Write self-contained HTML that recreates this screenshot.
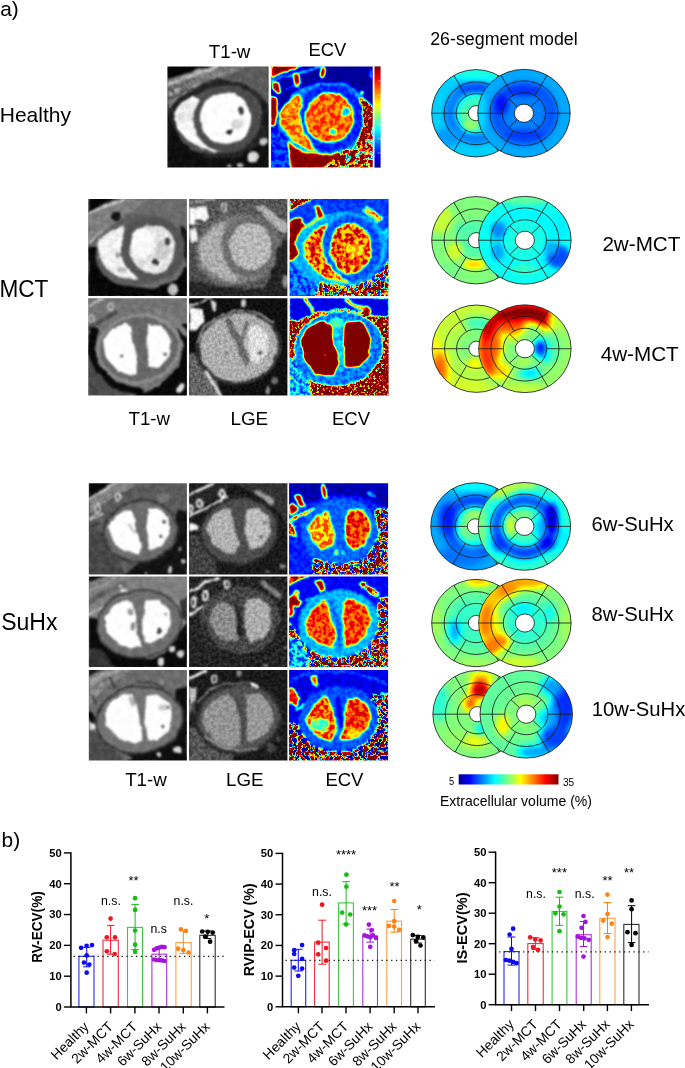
<!DOCTYPE html>
<html><head><meta charset="utf-8"><title>Figure</title>
<style>html,body{margin:0;padding:0;background:#fff}svg{display:block}text{font-family:"Liberation Sans",sans-serif}</style>
</head><body>
<svg width="685" height="1068" viewBox="0 0 685 1068">
<svg x="167.4" y="66.4" width="101.2" height="101.2" viewBox="42 65 578 578" preserveAspectRatio="none"><filter id="fh1" filterUnits="userSpaceOnUse" x="-27.36" y="-4.36" width="716.72" height="716.72" color-interpolation-filters="sRGB"><feTurbulence type="fractalNoise" baseFrequency="0.012" numOctaves="2" seed="103" result="dn"/><feDisplacementMap in="SourceGraphic" in2="dn" scale="22" xChannelSelector="R" yChannelSelector="G" result="ds"/><feTurbulence type="fractalNoise" baseFrequency="0.0420" numOctaves="1" seed="203" result="dn2"/><feDisplacementMap in="ds" in2="dn2" scale="13.2" xChannelSelector="R" yChannelSelector="G" result="ds2"/><feGaussianBlur in="ds2" stdDeviation="6" result="b"/><feColorMatrix in="b" type="matrix" values="1 0 0 0 0 1 0 0 0 0 1 0 0 0 0 0 0 0 0 1" result="A"/><feColorMatrix in="b" type="matrix" values="0 1 0 0 0 0 1 0 0 0 0 1 0 0 0 0 0 0 0 1" result="M"/><feTurbulence type="fractalNoise" baseFrequency="0.03" numOctaves="2" seed="3" result="t"/><feColorMatrix in="t" type="matrix" values="2.4 0 0 0 -0.7 2.4 0 0 0 -0.7 2.4 0 0 0 -0.7 0 0 0 0 1" result="N"/><feColorMatrix in="b" type="matrix" values="0 0 1 0 0 0 0 1 0 0 0 0 1 0 0 0 0 0 0 1" result="S"/><feTurbulence type="fractalNoise" baseFrequency="0.09" numOctaves="1" seed="53" result="t2"/><feColorMatrix in="t2" type="matrix" values="3.0 0 0 0 -1 3.0 0 0 0 -1 3.0 0 0 0 -1 0 0 0 0 1" result="N2"/><feComposite in="S" in2="N2" operator="arithmetic" k1="0.5" k2="0" k3="0" k4="0" result="P2"/><feComposite in="M" in2="N" operator="arithmetic" k1="0.5" k2="0" k3="0" k4="0" result="P"/><feComposite in="A" in2="M" operator="arithmetic" k1="0" k2="0.5" k3="-0.25" k4="0.25" result="H1"/><feComposite in="H1" in2="S" operator="arithmetic" k1="0" k2="1" k3="-0.25" k4="0" result="H1b"/><feComposite in="H1b" in2="P" operator="arithmetic" k1="0" k2="1" k3="1" k4="0" result="H2a"/><feComposite in="H2a" in2="P2" operator="arithmetic" k1="0" k2="1" k3="1" k4="0" result="H2"/><feComponentTransfer in="H2"><feFuncR type="linear" slope="2" intercept="-0.5"/><feFuncG type="linear" slope="2" intercept="-0.5"/><feFuncB type="linear" slope="2" intercept="-0.5"/></feComponentTransfer></filter><g filter="url(#fh1)"><rect x="-73.6" y="-50.6" width="809.2" height="809.2" fill="rgb(36,13,0)"/><polygon points="290,60 625,60 625,300 580,230 480,165 340,135" fill="rgb(92,15,0)"/><polygon points="42,135 290,58 520,58 400,110 300,140 200,185 120,235 42,310" fill="rgb(128,36,0)"/><polyline points="42,170 170,122 320,68" fill="none" stroke="rgb(204,26,0)" stroke-width="13" stroke-linecap="round" stroke-linejoin="round"/><polyline points="42,205 120,172 230,125" fill="none" stroke="rgb(76,26,0)" stroke-width="9" stroke-linecap="round" stroke-linejoin="round"/><polyline points="42,262 150,200 235,168 330,140" fill="none" stroke="rgb(56,20,0)" stroke-width="9" stroke-linecap="round" stroke-linejoin="round"/><polyline points="55,225 110,196" fill="none" stroke="rgb(178,26,0)" stroke-width="16" stroke-linecap="round" stroke-linejoin="round"/><ellipse cx="192" cy="163" rx="13" ry="22" fill="rgb(178,26,0)" transform="rotate(-20 192 163)"/><ellipse cx="192" cy="163" rx="5" ry="12" fill="rgb(76,26,0)" transform="rotate(-20 192 163)"/><ellipse cx="80" cy="215" rx="10" ry="26" fill="rgb(76,26,0)" transform="rotate(-20 80 215)"/><polygon points="42,60 292,60 42,140" fill="rgb(5,5,0)"/><polygon points="42,330 42,650 625,650 625,430 560,520 430,590 250,585 110,480 70,400" fill="rgb(15,10,0)"/><polygon points="575,250 625,320 625,440 590,400" fill="rgb(26,13,0)"/><ellipse cx="338" cy="372" rx="250" ry="190" fill="rgb(82,13,0)" transform="rotate(-18 338 372)"/><polygon points="190,232 120,272 80,335 98,420 160,488 235,532 305,556 350,548 270,485 215,410 195,330 222,262" fill="rgb(250,15,0)"/><ellipse cx="150" cy="330" rx="45" ry="70" fill="rgb(230,26,0)" transform="rotate(20 150 330)"/><ellipse cx="380" cy="365" rx="190" ry="192" fill="rgb(76,10,0)"/><ellipse cx="374" cy="360" rx="147" ry="147" fill="rgb(255,13,0)"/><ellipse cx="462" cy="318" rx="17" ry="24" fill="rgb(56,10,0)"/><ellipse cx="400" cy="437" rx="18" ry="15" fill="rgb(31,10,0)"/><ellipse cx="440" cy="395" rx="40" ry="30" fill="rgb(217,15,0)"/><ellipse cx="592" cy="495" rx="24" ry="22" fill="rgb(199,13,0)"/><ellipse cx="530" cy="582" rx="30" ry="32" fill="rgb(217,13,0)"/><ellipse cx="462" cy="630" rx="17" ry="13" fill="rgb(184,13,0)"/><ellipse cx="395" cy="634" rx="13" ry="10" fill="rgb(158,13,0)"/></g></svg>
<svg x="271.1" y="66.4" width="101.6" height="101.2" viewBox="35 65 580 578" preserveAspectRatio="none"><filter id="fh2" filterUnits="userSpaceOnUse" x="-34.6" y="-4.36" width="719.2" height="716.72" color-interpolation-filters="sRGB"><feTurbulence type="fractalNoise" baseFrequency="0.012" numOctaves="2" seed="107" result="dn"/><feDisplacementMap in="SourceGraphic" in2="dn" scale="22" xChannelSelector="R" yChannelSelector="G" result="ds"/><feTurbulence type="fractalNoise" baseFrequency="0.0420" numOctaves="1" seed="207" result="dn2"/><feDisplacementMap in="ds" in2="dn2" scale="13.2" xChannelSelector="R" yChannelSelector="G" result="ds2"/><feGaussianBlur in="ds2" stdDeviation="6" result="b"/><feColorMatrix in="b" type="matrix" values="1 0 0 0 0 1 0 0 0 0 1 0 0 0 0 0 0 0 0 1" result="A"/><feColorMatrix in="b" type="matrix" values="0 1 0 0 0 0 1 0 0 0 0 1 0 0 0 0 0 0 0 1" result="M"/><feTurbulence type="fractalNoise" baseFrequency="0.035" numOctaves="2" seed="7" result="t"/><feColorMatrix in="t" type="matrix" values="4.0 0 0 0 -1.5 4.0 0 0 0 -1.5 4.0 0 0 0 -1.5 0 0 0 0 1" result="N"/><feColorMatrix in="b" type="matrix" values="0 0 1 0 0 0 0 1 0 0 0 0 1 0 0 0 0 0 0 1" result="S"/><feTurbulence type="fractalNoise" baseFrequency="0.09" numOctaves="1" seed="57" result="t2"/><feColorMatrix in="t2" type="matrix" values="3.0 0 0 0 -1 3.0 0 0 0 -1 3.0 0 0 0 -1 0 0 0 0 1" result="N2"/><feComposite in="S" in2="N2" operator="arithmetic" k1="0.5" k2="0" k3="0" k4="0" result="P2"/><feComposite in="M" in2="N" operator="arithmetic" k1="0.5" k2="0" k3="0" k4="0" result="P"/><feComposite in="A" in2="M" operator="arithmetic" k1="0" k2="0.5" k3="-0.25" k4="0.25" result="H1"/><feComposite in="H1" in2="S" operator="arithmetic" k1="0" k2="1" k3="-0.25" k4="0" result="H1b"/><feComposite in="H1b" in2="P" operator="arithmetic" k1="0" k2="1" k3="1" k4="0" result="H2a"/><feComposite in="H2a" in2="P2" operator="arithmetic" k1="0" k2="1" k3="1" k4="0" result="H2"/><feComponentTransfer in="H2"><feFuncR type="table" tableValues="0 0 0 0 0 0 0 0 0 .5 1 1 1 .5 .5 .5 .5 .5 .5 .5 .5"/><feFuncG type="table" tableValues="0 0 0 0 0 0 0 .5 1 1 1 .5 0 0 0 0 0 0 0 0 0"/><feFuncB type="table" tableValues=".5 .5 .5 .5 .5 .5 1 1 1 .5 0 0 0 0 0 0 0 0 0 0 0"/></feComponentTransfer></filter><g filter="url(#fh2)"><rect x="-81" y="-50.6" width="812" height="809.2" fill="rgb(6,6,0)"/><ellipse cx="335" cy="372" rx="268" ry="215" fill="rgb(55,14,0)" transform="rotate(-18 335 372)"/><polyline points="35,142 180,105 330,68" fill="none" stroke="rgb(67,20,0)" stroke-width="16" stroke-linecap="round" stroke-linejoin="round"/><polygon points="35,60 215,60 35,128" fill="rgb(204,0,0)"/><ellipse cx="182" cy="145" rx="17" ry="40" fill="rgb(204,0,0)" transform="rotate(-14 182 145)"/><ellipse cx="330" cy="100" rx="14" ry="32" fill="rgb(204,0,0)" transform="rotate(12 330 100)"/><polygon points="38,150 78,158 98,215 72,222 50,190" fill="rgb(204,0,0)"/><polyline points="120,195 215,160" fill="none" stroke="rgb(82,20,0)" stroke-width="8" stroke-linecap="round" stroke-linejoin="round"/><polygon points="30,240 62,250 72,330 56,400 30,410" fill="rgb(204,0,0)"/><polygon points="30,415 90,440 150,520 175,650 30,650" fill="rgb(35,24,0)"/><polygon points="125,500 200,545 330,570 430,560 340,650 150,650" fill="rgb(204,10,0)"/><polygon points="340,650 430,560 520,520 565,420 620,380 620,650" fill="rgb(184,204,82)"/><polygon points="535,245 562,300 560,420 520,520 585,480 620,400 620,300 575,262" fill="rgb(245,61,184)"/><ellipse cx="605" cy="105" rx="10" ry="30" fill="rgb(61,20,0)"/><ellipse cx="555" cy="215" rx="8" ry="8" fill="rgb(204,0,0)"/><ellipse cx="372" cy="362" rx="192" ry="192" fill="rgb(31,10,0)"/><polygon points="192,228 120,268 80,335 98,422 160,492 235,536 296,552 258,485 215,410 195,330 215,258" fill="rgb(151,31,0)"/><ellipse cx="368" cy="357" rx="140" ry="142" fill="rgb(159,29,0)"/><ellipse cx="458" cy="325" rx="21" ry="23" fill="rgb(61,10,0)"/><ellipse cx="385" cy="440" rx="19" ry="17" fill="rgb(65,10,0)"/></g></svg>
<svg x="88.2" y="199.1" width="98.7" height="96.9" viewBox="47 52 563 553" preserveAspectRatio="none"><filter id="fm11" filterUnits="userSpaceOnUse" x="-20.56" y="-14.36" width="698.12" height="685.72" color-interpolation-filters="sRGB"><feTurbulence type="fractalNoise" baseFrequency="0.012" numOctaves="2" seed="111" result="dn"/><feDisplacementMap in="SourceGraphic" in2="dn" scale="22" xChannelSelector="R" yChannelSelector="G" result="ds"/><feTurbulence type="fractalNoise" baseFrequency="0.0420" numOctaves="1" seed="211" result="dn2"/><feDisplacementMap in="ds" in2="dn2" scale="13.2" xChannelSelector="R" yChannelSelector="G" result="ds2"/><feGaussianBlur in="ds2" stdDeviation="6" result="b"/><feColorMatrix in="b" type="matrix" values="1 0 0 0 0 1 0 0 0 0 1 0 0 0 0 0 0 0 0 1" result="A"/><feColorMatrix in="b" type="matrix" values="0 1 0 0 0 0 1 0 0 0 0 1 0 0 0 0 0 0 0 1" result="M"/><feTurbulence type="fractalNoise" baseFrequency="0.03" numOctaves="2" seed="11" result="t"/><feColorMatrix in="t" type="matrix" values="2.4 0 0 0 -0.7 2.4 0 0 0 -0.7 2.4 0 0 0 -0.7 0 0 0 0 1" result="N"/><feColorMatrix in="b" type="matrix" values="0 0 1 0 0 0 0 1 0 0 0 0 1 0 0 0 0 0 0 1" result="S"/><feTurbulence type="fractalNoise" baseFrequency="0.09" numOctaves="1" seed="61" result="t2"/><feColorMatrix in="t2" type="matrix" values="3.0 0 0 0 -1 3.0 0 0 0 -1 3.0 0 0 0 -1 0 0 0 0 1" result="N2"/><feComposite in="S" in2="N2" operator="arithmetic" k1="0.5" k2="0" k3="0" k4="0" result="P2"/><feComposite in="M" in2="N" operator="arithmetic" k1="0.5" k2="0" k3="0" k4="0" result="P"/><feComposite in="A" in2="M" operator="arithmetic" k1="0" k2="0.5" k3="-0.25" k4="0.25" result="H1"/><feComposite in="H1" in2="S" operator="arithmetic" k1="0" k2="1" k3="-0.25" k4="0" result="H1b"/><feComposite in="H1b" in2="P" operator="arithmetic" k1="0" k2="1" k3="1" k4="0" result="H2a"/><feComposite in="H2a" in2="P2" operator="arithmetic" k1="0" k2="1" k3="1" k4="0" result="H2"/><feComponentTransfer in="H2"><feFuncR type="linear" slope="2" intercept="-0.5"/><feFuncG type="linear" slope="2" intercept="-0.5"/><feFuncB type="linear" slope="2" intercept="-0.5"/></feComponentTransfer></filter><g filter="url(#fm11)"><rect x="-65.6" y="-58.6" width="788.2" height="774.2" fill="rgb(107,15,0)"/><polygon points="47,140 260,52 400,52 250,150 47,300" fill="rgb(128,20,0)"/><polygon points="47,45 215,45 47,125" fill="rgb(5,5,0)"/><polyline points="47,133 250,53" fill="none" stroke="rgb(230,13,0)" stroke-width="10" stroke-linecap="round" stroke-linejoin="round"/><polyline points="55,300 135,236" fill="none" stroke="rgb(217,13,0)" stroke-width="8" stroke-linecap="round" stroke-linejoin="round"/><ellipse cx="205" cy="150" rx="28" ry="30" fill="rgb(20,13,0)"/><polygon points="47,315 100,330 130,450 250,545 420,565 540,525 600,440 615,430 615,612 47,612" fill="rgb(8,8,0)"/><polygon points="572,195 615,225 615,440 592,380" fill="rgb(20,10,0)"/><ellipse cx="530" cy="570" rx="30" ry="30" fill="rgb(191,13,0)"/><ellipse cx="340" cy="345" rx="255" ry="200" fill="rgb(92,13,0)" transform="rotate(-18 340 345)"/><polygon points="255,195 170,235 100,300 108,380 150,450 230,500 335,512 290,460 245,390 235,310 250,240" fill="rgb(242,20,0)"/><ellipse cx="215" cy="375" rx="14" ry="14" fill="rgb(158,13,0)"/><ellipse cx="240" cy="455" rx="22" ry="15" fill="rgb(184,13,0)"/><ellipse cx="415" cy="335" rx="182" ry="186" fill="rgb(84,10,0)"/><ellipse cx="415" cy="335" rx="130" ry="140" fill="rgb(230,26,0)"/><ellipse cx="355" cy="300" rx="60" ry="85" fill="rgb(250,10,0)"/><ellipse cx="470" cy="340" rx="40" ry="60" fill="rgb(204,20,0)"/><ellipse cx="497" cy="295" rx="18" ry="22" fill="rgb(64,10,0)"/><ellipse cx="432" cy="408" rx="20" ry="16" fill="rgb(51,10,0)"/></g></svg>
<svg x="189.1" y="199.1" width="98.3" height="96.9" viewBox="52 52 561 553" preserveAspectRatio="none"><filter id="fm12" filterUnits="userSpaceOnUse" x="-15.32" y="-14.36" width="695.64" height="685.72" color-interpolation-filters="sRGB"><feTurbulence type="fractalNoise" baseFrequency="0.012" numOctaves="2" seed="112" result="dn"/><feDisplacementMap in="SourceGraphic" in2="dn" scale="22" xChannelSelector="R" yChannelSelector="G" result="ds"/><feTurbulence type="fractalNoise" baseFrequency="0.0420" numOctaves="1" seed="212" result="dn2"/><feDisplacementMap in="ds" in2="dn2" scale="13.2" xChannelSelector="R" yChannelSelector="G" result="ds2"/><feGaussianBlur in="ds2" stdDeviation="6" result="b"/><feColorMatrix in="b" type="matrix" values="1 0 0 0 0 1 0 0 0 0 1 0 0 0 0 0 0 0 0 1" result="A"/><feColorMatrix in="b" type="matrix" values="0 1 0 0 0 0 1 0 0 0 0 1 0 0 0 0 0 0 0 1" result="M"/><feTurbulence type="fractalNoise" baseFrequency="0.05" numOctaves="2" seed="12" result="t"/><feColorMatrix in="t" type="matrix" values="2.4 0 0 0 -0.7 2.4 0 0 0 -0.7 2.4 0 0 0 -0.7 0 0 0 0 1" result="N"/><feColorMatrix in="b" type="matrix" values="0 0 1 0 0 0 0 1 0 0 0 0 1 0 0 0 0 0 0 1" result="S"/><feTurbulence type="fractalNoise" baseFrequency="0.09" numOctaves="1" seed="62" result="t2"/><feColorMatrix in="t2" type="matrix" values="3.0 0 0 0 -1 3.0 0 0 0 -1 3.0 0 0 0 -1 0 0 0 0 1" result="N2"/><feComposite in="S" in2="N2" operator="arithmetic" k1="0.5" k2="0" k3="0" k4="0" result="P2"/><feComposite in="M" in2="N" operator="arithmetic" k1="0.5" k2="0" k3="0" k4="0" result="P"/><feComposite in="A" in2="M" operator="arithmetic" k1="0" k2="0.5" k3="-0.25" k4="0.25" result="H1"/><feComposite in="H1" in2="S" operator="arithmetic" k1="0" k2="1" k3="-0.25" k4="0" result="H1b"/><feComposite in="H1b" in2="P" operator="arithmetic" k1="0" k2="1" k3="1" k4="0" result="H2a"/><feComposite in="H2a" in2="P2" operator="arithmetic" k1="0" k2="1" k3="1" k4="0" result="H2"/><feComponentTransfer in="H2"><feFuncR type="linear" slope="2" intercept="-0.5"/><feFuncG type="linear" slope="2" intercept="-0.5"/><feFuncB type="linear" slope="2" intercept="-0.5"/></feComponentTransfer></filter><g filter="url(#fm12)"><rect x="-60.2" y="-58.6" width="785.4" height="774.2" fill="rgb(87,36,0)"/><polygon points="52,105 150,92 165,160 120,200 52,200" fill="rgb(247,26,0)"/><ellipse cx="110" cy="182" rx="25" ry="14" fill="rgb(64,13,0)"/><ellipse cx="250" cy="100" rx="14" ry="26" fill="none" stroke="rgb(235,13,0)" stroke-width="9"/><polyline points="52,72 200,50" fill="none" stroke="rgb(199,13,0)" stroke-width="8" stroke-linecap="round" stroke-linejoin="round"/><polygon points="52,228 95,222 102,290 62,302" fill="rgb(242,13,0)"/><polygon points="420,92 470,84 618,200 598,255 520,190" fill="rgb(178,31,0)"/><polygon points="555,300 618,280 618,612 440,612 520,500" fill="rgb(33,20,0)"/><polygon points="52,515 200,540 400,565 618,545 618,612 52,612" fill="rgb(38,20,0)"/><polygon points="52,320 100,330 150,450 240,530 52,530" fill="rgb(76,26,0)"/><ellipse cx="335" cy="340" rx="252" ry="205" fill="rgb(102,31,0)" transform="rotate(-15 335 340)"/><ellipse cx="335" cy="340" rx="238" ry="190" fill="rgb(128,31,0)" transform="rotate(-15 335 340)"/><polygon points="255,182 165,230 105,300 112,390 158,458 240,508 345,520 292,458 245,385 235,305 250,232" fill="rgb(173,36,0)"/><ellipse cx="402" cy="325" rx="160" ry="172" fill="rgb(107,26,0)"/><ellipse cx="402" cy="322" rx="122" ry="134" fill="rgb(184,36,0)"/><polygon points="52,560 200,570 400,580 618,560 618,612 52,612" fill="rgb(36,20,0)"/><polygon points="548,330 618,300 618,560 500,570 560,470" fill="rgb(36,20,0)"/><ellipse cx="602" cy="520" rx="18" ry="40" fill="rgb(140,20,0)"/></g></svg>
<svg x="289.6" y="199.1" width="99" height="96.9" viewBox="55 52 565 553" preserveAspectRatio="none"><filter id="fm13" filterUnits="userSpaceOnUse" x="-12.8" y="-14.36" width="700.6" height="685.72" color-interpolation-filters="sRGB"><feTurbulence type="fractalNoise" baseFrequency="0.012" numOctaves="2" seed="113" result="dn"/><feDisplacementMap in="SourceGraphic" in2="dn" scale="22" xChannelSelector="R" yChannelSelector="G" result="ds"/><feTurbulence type="fractalNoise" baseFrequency="0.0420" numOctaves="1" seed="213" result="dn2"/><feDisplacementMap in="ds" in2="dn2" scale="13.2" xChannelSelector="R" yChannelSelector="G" result="ds2"/><feGaussianBlur in="ds2" stdDeviation="6" result="b"/><feColorMatrix in="b" type="matrix" values="1 0 0 0 0 1 0 0 0 0 1 0 0 0 0 0 0 0 0 1" result="A"/><feColorMatrix in="b" type="matrix" values="0 1 0 0 0 0 1 0 0 0 0 1 0 0 0 0 0 0 0 1" result="M"/><feTurbulence type="fractalNoise" baseFrequency="0.04" numOctaves="2" seed="13" result="t"/><feColorMatrix in="t" type="matrix" values="4.0 0 0 0 -1.5 4.0 0 0 0 -1.5 4.0 0 0 0 -1.5 0 0 0 0 1" result="N"/><feColorMatrix in="b" type="matrix" values="0 0 1 0 0 0 0 1 0 0 0 0 1 0 0 0 0 0 0 1" result="S"/><feTurbulence type="fractalNoise" baseFrequency="0.09" numOctaves="1" seed="63" result="t2"/><feColorMatrix in="t2" type="matrix" values="3.0 0 0 0 -1 3.0 0 0 0 -1 3.0 0 0 0 -1 0 0 0 0 1" result="N2"/><feComposite in="S" in2="N2" operator="arithmetic" k1="0.5" k2="0" k3="0" k4="0" result="P2"/><feComposite in="M" in2="N" operator="arithmetic" k1="0.5" k2="0" k3="0" k4="0" result="P"/><feComposite in="A" in2="M" operator="arithmetic" k1="0" k2="0.5" k3="-0.25" k4="0.25" result="H1"/><feComposite in="H1" in2="S" operator="arithmetic" k1="0" k2="1" k3="-0.25" k4="0" result="H1b"/><feComposite in="H1b" in2="P" operator="arithmetic" k1="0" k2="1" k3="1" k4="0" result="H2a"/><feComposite in="H2a" in2="P2" operator="arithmetic" k1="0" k2="1" k3="1" k4="0" result="H2"/><feComponentTransfer in="H2"><feFuncR type="table" tableValues="0 0 0 0 0 0 0 0 0 .5 1 1 1 .5 .5 .5 .5 .5 .5 .5 .5"/><feFuncG type="table" tableValues="0 0 0 0 0 0 0 .5 1 1 1 .5 0 0 0 0 0 0 0 0 0"/><feFuncB type="table" tableValues=".5 .5 .5 .5 .5 .5 1 1 1 .5 0 0 0 0 0 0 0 0 0 0 0"/></feComponentTransfer></filter><g filter="url(#fm13)"><rect x="-58" y="-58.6" width="791" height="774.2" fill="rgb(37,10,0)"/><ellipse cx="340" cy="345" rx="275" ry="220" fill="rgb(61,10,0)" transform="rotate(-15 340 345)"/><polygon points="55,45 195,45 55,118" fill="rgb(224,82,184)"/><polygon points="188,95 222,88 252,150 224,162" fill="rgb(204,0,0)"/><polygon points="55,170 110,158 142,200 112,240 82,300 102,360 72,402 50,402" fill="rgb(224,41,0)"/><polyline points="130,215 232,165" fill="none" stroke="rgb(173,20,0)" stroke-width="10" stroke-linecap="round" stroke-linejoin="round"/><polygon points="470,110 500,94 588,160 560,186" fill="rgb(153,61,0)"/><ellipse cx="602" cy="250" rx="14" ry="30" fill="rgb(73,20,0)"/><polygon points="225,535 320,548 420,552 520,520 570,470 625,395 625,612 195,612" fill="rgb(143,245,61)"/><polygon points="55,420 200,540 200,612 50,612" fill="rgb(45,31,0)"/><ellipse cx="405" cy="335" rx="172" ry="188" fill="rgb(41,12,0)"/><polygon points="275,188 195,230 140,300 140,375 185,448 270,510 392,532 302,455 250,370 240,290 257,228" fill="rgb(163,57,0)"/><ellipse cx="405" cy="335" rx="118" ry="142" fill="rgb(163,57,0)"/><ellipse cx="435" cy="340" rx="50" ry="38" fill="rgb(135,31,0)"/></g></svg>
<svg x="88.2" y="298.2" width="98.7" height="97.4" viewBox="47 47 563 556" preserveAspectRatio="none"><filter id="fm21" filterUnits="userSpaceOnUse" x="-20.56" y="-19.72" width="698.12" height="689.44" color-interpolation-filters="sRGB"><feTurbulence type="fractalNoise" baseFrequency="0.012" numOctaves="2" seed="121" result="dn"/><feDisplacementMap in="SourceGraphic" in2="dn" scale="22" xChannelSelector="R" yChannelSelector="G" result="ds"/><feTurbulence type="fractalNoise" baseFrequency="0.0420" numOctaves="1" seed="221" result="dn2"/><feDisplacementMap in="ds" in2="dn2" scale="13.2" xChannelSelector="R" yChannelSelector="G" result="ds2"/><feGaussianBlur in="ds2" stdDeviation="6" result="b"/><feColorMatrix in="b" type="matrix" values="1 0 0 0 0 1 0 0 0 0 1 0 0 0 0 0 0 0 0 1" result="A"/><feColorMatrix in="b" type="matrix" values="0 1 0 0 0 0 1 0 0 0 0 1 0 0 0 0 0 0 0 1" result="M"/><feTurbulence type="fractalNoise" baseFrequency="0.03" numOctaves="2" seed="21" result="t"/><feColorMatrix in="t" type="matrix" values="2.4 0 0 0 -0.7 2.4 0 0 0 -0.7 2.4 0 0 0 -0.7 0 0 0 0 1" result="N"/><feColorMatrix in="b" type="matrix" values="0 0 1 0 0 0 0 1 0 0 0 0 1 0 0 0 0 0 0 1" result="S"/><feTurbulence type="fractalNoise" baseFrequency="0.09" numOctaves="1" seed="71" result="t2"/><feColorMatrix in="t2" type="matrix" values="3.0 0 0 0 -1 3.0 0 0 0 -1 3.0 0 0 0 -1 0 0 0 0 1" result="N2"/><feComposite in="S" in2="N2" operator="arithmetic" k1="0.5" k2="0" k3="0" k4="0" result="P2"/><feComposite in="M" in2="N" operator="arithmetic" k1="0.5" k2="0" k3="0" k4="0" result="P"/><feComposite in="A" in2="M" operator="arithmetic" k1="0" k2="0.5" k3="-0.25" k4="0.25" result="H1"/><feComposite in="H1" in2="S" operator="arithmetic" k1="0" k2="1" k3="-0.25" k4="0" result="H1b"/><feComposite in="H1b" in2="P" operator="arithmetic" k1="0" k2="1" k3="1" k4="0" result="H2a"/><feComposite in="H2a" in2="P2" operator="arithmetic" k1="0" k2="1" k3="1" k4="0" result="H2"/><feComponentTransfer in="H2"><feFuncR type="linear" slope="2" intercept="-0.5"/><feFuncG type="linear" slope="2" intercept="-0.5"/><feFuncB type="linear" slope="2" intercept="-0.5"/></feComponentTransfer></filter><g filter="url(#fm21)"><rect x="-65.6" y="-64.2" width="788.2" height="778.4" fill="rgb(117,15,0)"/><polyline points="47,93 125,47" fill="none" stroke="rgb(235,10,0)" stroke-width="8" stroke-linecap="round" stroke-linejoin="round"/><ellipse cx="65" cy="165" rx="13" ry="22" fill="none" stroke="rgb(204,10,0)" stroke-width="9"/><ellipse cx="175" cy="97" rx="13" ry="20" fill="none" stroke="rgb(204,10,0)" stroke-width="9" transform="rotate(-20 175 97)"/><polyline points="47,225 210,125" fill="none" stroke="rgb(76,13,0)" stroke-width="22" stroke-linecap="round" stroke-linejoin="round"/><polygon points="47,250 47,612 300,612 200,520 110,400" fill="rgb(76,15,0)"/><polyline points="80,240 62,340 105,450 200,545 340,580" fill="none" stroke="rgb(8,8,0)" stroke-width="44" stroke-linecap="round" stroke-linejoin="round"/><polygon points="548,200 618,190 618,612 300,612 450,545 565,440 590,320" fill="rgb(8,8,0)"/><polyline points="440,120 540,170 600,250" fill="none" stroke="rgb(128,13,0)" stroke-width="30" stroke-linecap="round" stroke-linejoin="round"/><ellipse cx="575" cy="560" rx="16" ry="30" fill="rgb(230,10,0)" transform="rotate(30 575 560)"/><ellipse cx="335" cy="335" rx="245" ry="198" fill="rgb(143,13,0)" transform="rotate(-10 335 335)"/><ellipse cx="335" cy="335" rx="225" ry="180" fill="rgb(102,13,0)" transform="rotate(-10 335 335)"/><polygon points="250,192 176,225 132,290 142,375 196,448 260,480 322,486 326,380 306,300 293,210" fill="rgb(255,8,0)"/><polygon points="382,198 472,204 518,280 506,375 452,438 392,444 380,330" fill="rgb(255,8,0)"/><ellipse cx="243" cy="378" rx="8" ry="8" fill="rgb(76,8,0)"/><ellipse cx="482" cy="365" rx="10" ry="8" fill="rgb(115,8,0)"/></g></svg>
<svg x="189.1" y="298.2" width="98.3" height="97.4" viewBox="52 47 561 556" preserveAspectRatio="none"><filter id="fm22" filterUnits="userSpaceOnUse" x="-15.32" y="-19.72" width="695.64" height="689.44" color-interpolation-filters="sRGB"><feTurbulence type="fractalNoise" baseFrequency="0.012" numOctaves="2" seed="122" result="dn"/><feDisplacementMap in="SourceGraphic" in2="dn" scale="22" xChannelSelector="R" yChannelSelector="G" result="ds"/><feTurbulence type="fractalNoise" baseFrequency="0.0420" numOctaves="1" seed="222" result="dn2"/><feDisplacementMap in="ds" in2="dn2" scale="13.2" xChannelSelector="R" yChannelSelector="G" result="ds2"/><feGaussianBlur in="ds2" stdDeviation="5.5" result="b"/><feColorMatrix in="b" type="matrix" values="1 0 0 0 0 1 0 0 0 0 1 0 0 0 0 0 0 0 0 1" result="A"/><feColorMatrix in="b" type="matrix" values="0 1 0 0 0 0 1 0 0 0 0 1 0 0 0 0 0 0 0 1" result="M"/><feTurbulence type="fractalNoise" baseFrequency="0.06" numOctaves="2" seed="22" result="t"/><feColorMatrix in="t" type="matrix" values="2.4 0 0 0 -0.7 2.4 0 0 0 -0.7 2.4 0 0 0 -0.7 0 0 0 0 1" result="N"/><feColorMatrix in="b" type="matrix" values="0 0 1 0 0 0 0 1 0 0 0 0 1 0 0 0 0 0 0 1" result="S"/><feTurbulence type="fractalNoise" baseFrequency="0.09" numOctaves="1" seed="72" result="t2"/><feColorMatrix in="t2" type="matrix" values="3.0 0 0 0 -1 3.0 0 0 0 -1 3.0 0 0 0 -1 0 0 0 0 1" result="N2"/><feComposite in="S" in2="N2" operator="arithmetic" k1="0.5" k2="0" k3="0" k4="0" result="P2"/><feComposite in="M" in2="N" operator="arithmetic" k1="0.5" k2="0" k3="0" k4="0" result="P"/><feComposite in="A" in2="M" operator="arithmetic" k1="0" k2="0.5" k3="-0.25" k4="0.25" result="H1"/><feComposite in="H1" in2="S" operator="arithmetic" k1="0" k2="1" k3="-0.25" k4="0" result="H1b"/><feComposite in="H1b" in2="P" operator="arithmetic" k1="0" k2="1" k3="1" k4="0" result="H2a"/><feComposite in="H2a" in2="P2" operator="arithmetic" k1="0" k2="1" k3="1" k4="0" result="H2"/><feComponentTransfer in="H2"><feFuncR type="linear" slope="2" intercept="-0.5"/><feFuncG type="linear" slope="2" intercept="-0.5"/><feFuncB type="linear" slope="2" intercept="-0.5"/></feComponentTransfer></filter><g filter="url(#fm22)"><rect x="-60.2" y="-64.2" width="785.4" height="778.4" fill="rgb(15,15,0)"/><polygon points="52,100 130,110 140,180 100,232 52,232" fill="rgb(247,26,0)"/><polyline points="52,95 180,47" fill="none" stroke="rgb(235,13,0)" stroke-width="10" stroke-linecap="round" stroke-linejoin="round"/><ellipse cx="190" cy="92" rx="13" ry="28" fill="rgb(224,13,0)" transform="rotate(-15 190 92)"/><ellipse cx="362" cy="72" rx="14" ry="28" fill="rgb(209,13,0)"/><polygon points="52,355 120,380 200,480 240,612 52,612" fill="rgb(102,46,0)"/><ellipse cx="540" cy="520" rx="20" ry="18" fill="rgb(115,13,0)"/><ellipse cx="500" cy="572" rx="12" ry="25" fill="rgb(153,13,0)"/><ellipse cx="335" cy="330" rx="248" ry="212" fill="rgb(51,20,0)" transform="rotate(-10 335 330)"/><ellipse cx="335" cy="330" rx="225" ry="192" fill="rgb(173,38,0)" transform="rotate(-10 335 330)"/><polyline points="100,300 140,210 235,142 340,116 450,132 525,185" fill="none" stroke="rgb(217,13,0)" stroke-width="7" stroke-linecap="round" stroke-linejoin="round"/><polyline points="150,472 235,606" fill="none" stroke="rgb(255,8,0)" stroke-width="14" stroke-linecap="round" stroke-linejoin="round"/><polyline points="275,178 330,280 375,410" fill="none" stroke="rgb(102,31,0)" stroke-width="36" stroke-linecap="round" stroke-linejoin="round"/><polyline points="385,185 352,280" fill="none" stroke="rgb(107,31,0)" stroke-width="22" stroke-linecap="round" stroke-linejoin="round"/><polygon points="395,215 440,195 505,260 500,365 445,425 400,405 385,300" fill="rgb(224,38,0)"/><ellipse cx="460" cy="360" rx="14" ry="12" fill="rgb(76,13,0)"/><ellipse cx="265" cy="360" rx="10" ry="8" fill="rgb(102,13,0)"/><polyline points="95,330 120,420 190,490" fill="none" stroke="rgb(31,13,0)" stroke-width="9" stroke-linecap="round" stroke-linejoin="round"/></g></svg>
<svg x="289.6" y="298.2" width="99" height="97.4" viewBox="55 47 565 556" preserveAspectRatio="none"><filter id="fm23" filterUnits="userSpaceOnUse" x="-12.8" y="-19.72" width="700.6" height="689.44" color-interpolation-filters="sRGB"><feTurbulence type="fractalNoise" baseFrequency="0.012" numOctaves="2" seed="123" result="dn"/><feDisplacementMap in="SourceGraphic" in2="dn" scale="22" xChannelSelector="R" yChannelSelector="G" result="ds"/><feTurbulence type="fractalNoise" baseFrequency="0.0420" numOctaves="1" seed="223" result="dn2"/><feDisplacementMap in="ds" in2="dn2" scale="13.2" xChannelSelector="R" yChannelSelector="G" result="ds2"/><feGaussianBlur in="ds2" stdDeviation="6" result="b"/><feColorMatrix in="b" type="matrix" values="1 0 0 0 0 1 0 0 0 0 1 0 0 0 0 0 0 0 0 1" result="A"/><feColorMatrix in="b" type="matrix" values="0 1 0 0 0 0 1 0 0 0 0 1 0 0 0 0 0 0 0 1" result="M"/><feTurbulence type="fractalNoise" baseFrequency="0.045" numOctaves="2" seed="23" result="t"/><feColorMatrix in="t" type="matrix" values="2.4 0 0 0 -0.7 2.4 0 0 0 -0.7 2.4 0 0 0 -0.7 0 0 0 0 1" result="N"/><feColorMatrix in="b" type="matrix" values="0 0 1 0 0 0 0 1 0 0 0 0 1 0 0 0 0 0 0 1" result="S"/><feTurbulence type="fractalNoise" baseFrequency="0.09" numOctaves="1" seed="73" result="t2"/><feColorMatrix in="t2" type="matrix" values="3.0 0 0 0 -1 3.0 0 0 0 -1 3.0 0 0 0 -1 0 0 0 0 1" result="N2"/><feComposite in="S" in2="N2" operator="arithmetic" k1="0.5" k2="0" k3="0" k4="0" result="P2"/><feComposite in="M" in2="N" operator="arithmetic" k1="0.5" k2="0" k3="0" k4="0" result="P"/><feComposite in="A" in2="M" operator="arithmetic" k1="0" k2="0.5" k3="-0.25" k4="0.25" result="H1"/><feComposite in="H1" in2="S" operator="arithmetic" k1="0" k2="1" k3="-0.25" k4="0" result="H1b"/><feComposite in="H1b" in2="P" operator="arithmetic" k1="0" k2="1" k3="1" k4="0" result="H2a"/><feComposite in="H2a" in2="P2" operator="arithmetic" k1="0" k2="1" k3="1" k4="0" result="H2"/><feComponentTransfer in="H2"><feFuncR type="table" tableValues="0 0 0 0 0 0 0 0 0 .5 1 1 1 .5 .5 .5 .5 .5 .5 .5 .5"/><feFuncG type="table" tableValues="0 0 0 0 0 0 0 .5 1 1 1 .5 0 0 0 0 0 0 0 0 0"/><feFuncB type="table" tableValues=".5 .5 .5 .5 .5 .5 1 1 1 .5 0 0 0 0 0 0 0 0 0 0 0"/></feComponentTransfer></filter><g filter="url(#fm23)"><rect x="-58" y="-64.2" width="791" height="778.4" fill="rgb(235,82,224)"/><polygon points="50,40 625,40 625,160 560,150 480,130 350,110 200,130 110,182 50,172" fill="rgb(20,12,0)"/><polyline points="150,52 186,120" fill="none" stroke="rgb(204,0,0)" stroke-width="14" stroke-linecap="round" stroke-linejoin="round"/><polyline points="380,58 430,95 500,110" fill="none" stroke="rgb(194,61,0)" stroke-width="16" stroke-linecap="round" stroke-linejoin="round"/><ellipse cx="495" cy="115" rx="25" ry="20" fill="rgb(194,41,0)"/><polygon points="50,390 110,400 170,470 185,612 50,612" fill="rgb(61,61,0)"/><ellipse cx="335" cy="335" rx="258" ry="215" fill="rgb(51,24,0)" transform="rotate(-10 335 335)"/><polyline points="110,200 200,142 252,130" fill="none" stroke="rgb(194,20,0)" stroke-width="10" stroke-linecap="round" stroke-linejoin="round"/><polyline points="300,180 340,300 350,440" fill="none" stroke="rgb(67,20,0)" stroke-width="34" stroke-linecap="round" stroke-linejoin="round"/><ellipse cx="322" cy="190" rx="42" ry="30" fill="rgb(92,20,0)"/><polygon points="245,172 170,216 120,290 136,390 200,476 304,496 334,420 308,300 288,205" fill="rgb(255,0,0)"/><polygon points="370,186 464,180 516,270 504,380 446,436 380,432 364,320" fill="rgb(255,0,0)"/><ellipse cx="258" cy="372" rx="10" ry="8" fill="rgb(112,0,0)"/></g></svg>
<svg x="88.8" y="483.2" width="98.1" height="91.3" viewBox="50 47 560 521" preserveAspectRatio="none"><filter id="fs11" filterUnits="userSpaceOnUse" x="-17.2" y="-15.52" width="694.4" height="646.04" color-interpolation-filters="sRGB"><feTurbulence type="fractalNoise" baseFrequency="0.012" numOctaves="2" seed="131" result="dn"/><feDisplacementMap in="SourceGraphic" in2="dn" scale="22" xChannelSelector="R" yChannelSelector="G" result="ds"/><feTurbulence type="fractalNoise" baseFrequency="0.0420" numOctaves="1" seed="231" result="dn2"/><feDisplacementMap in="ds" in2="dn2" scale="13.2" xChannelSelector="R" yChannelSelector="G" result="ds2"/><feGaussianBlur in="ds2" stdDeviation="6" result="b"/><feColorMatrix in="b" type="matrix" values="1 0 0 0 0 1 0 0 0 0 1 0 0 0 0 0 0 0 0 1" result="A"/><feColorMatrix in="b" type="matrix" values="0 1 0 0 0 0 1 0 0 0 0 1 0 0 0 0 0 0 0 1" result="M"/><feTurbulence type="fractalNoise" baseFrequency="0.03" numOctaves="2" seed="31" result="t"/><feColorMatrix in="t" type="matrix" values="2.4 0 0 0 -0.7 2.4 0 0 0 -0.7 2.4 0 0 0 -0.7 0 0 0 0 1" result="N"/><feColorMatrix in="b" type="matrix" values="0 0 1 0 0 0 0 1 0 0 0 0 1 0 0 0 0 0 0 1" result="S"/><feTurbulence type="fractalNoise" baseFrequency="0.09" numOctaves="1" seed="81" result="t2"/><feColorMatrix in="t2" type="matrix" values="3.0 0 0 0 -1 3.0 0 0 0 -1 3.0 0 0 0 -1 0 0 0 0 1" result="N2"/><feComposite in="S" in2="N2" operator="arithmetic" k1="0.5" k2="0" k3="0" k4="0" result="P2"/><feComposite in="M" in2="N" operator="arithmetic" k1="0.5" k2="0" k3="0" k4="0" result="P"/><feComposite in="A" in2="M" operator="arithmetic" k1="0" k2="0.5" k3="-0.25" k4="0.25" result="H1"/><feComposite in="H1" in2="S" operator="arithmetic" k1="0" k2="1" k3="-0.25" k4="0" result="H1b"/><feComposite in="H1b" in2="P" operator="arithmetic" k1="0" k2="1" k3="1" k4="0" result="H2a"/><feComposite in="H2a" in2="P2" operator="arithmetic" k1="0" k2="1" k3="1" k4="0" result="H2"/><feComponentTransfer in="H2"><feFuncR type="linear" slope="2" intercept="-0.5"/><feFuncG type="linear" slope="2" intercept="-0.5"/><feFuncB type="linear" slope="2" intercept="-0.5"/></feComponentTransfer></filter><g filter="url(#fs11)"><rect x="-62" y="-57.2" width="784" height="729.4" fill="rgb(92,18,0)"/><polygon points="50,128 195,42 345,42 250,100 150,165 50,262" fill="rgb(128,26,0)"/><polyline points="50,140 200,50" fill="none" stroke="rgb(199,15,0)" stroke-width="12" stroke-linecap="round" stroke-linejoin="round"/><polyline points="50,225 140,170 290,80" fill="none" stroke="rgb(64,15,0)" stroke-width="8" stroke-linecap="round" stroke-linejoin="round"/><polygon points="50,40 195,40 50,128" fill="rgb(8,8,0)"/><ellipse cx="215" cy="128" rx="12" ry="20" fill="none" stroke="rgb(217,10,0)" stroke-width="9"/><ellipse cx="100" cy="190" rx="14" ry="22" fill="none" stroke="rgb(204,10,0)" stroke-width="9"/><polyline points="55,255 130,216" fill="none" stroke="rgb(217,10,0)" stroke-width="10" stroke-linecap="round" stroke-linejoin="round"/><polyline points="60,300 110,280" fill="none" stroke="rgb(51,10,0)" stroke-width="10" stroke-linecap="round" stroke-linejoin="round"/><ellipse cx="470" cy="130" rx="40" ry="25" fill="rgb(117,13,0)"/><polygon points="565,190 615,215 615,575 250,575 330,505 480,465" fill="rgb(20,10,0)"/><polygon points="50,300 130,330 200,450 260,575 50,575" fill="rgb(71,18,0)"/><ellipse cx="510" cy="540" rx="14" ry="20" fill="rgb(199,10,0)"/><ellipse cx="590" cy="490" rx="14" ry="16" fill="rgb(184,10,0)"/><ellipse cx="570" cy="420" rx="10" ry="10" fill="rgb(128,10,0)"/><ellipse cx="375" cy="560" rx="6" ry="6" fill="rgb(178,10,0)"/><ellipse cx="345" cy="322" rx="216" ry="180" fill="rgb(56,13,0)" transform="rotate(-8 345 322)"/><ellipse cx="345" cy="322" rx="204" ry="168" fill="rgb(107,13,0)" transform="rotate(-8 345 322)"/><polygon points="262,195 198,236 160,300 190,380 248,432 332,456 360,410 326,330 316,250 294,198" fill="rgb(255,13,0)"/><polyline points="282,285 312,324" fill="none" stroke="rgb(184,13,0)" stroke-width="14" stroke-linecap="round" stroke-linejoin="round"/><polygon points="390,192 445,190 505,245 512,335 462,412 398,428 376,320" fill="rgb(255,13,0)"/><ellipse cx="480" cy="268" rx="11" ry="11" fill="rgb(76,10,0)"/><ellipse cx="467" cy="350" rx="9" ry="9" fill="rgb(76,10,0)"/></g></svg>
<svg x="189.1" y="483.2" width="98.3" height="91.3" viewBox="52 47 561 521" preserveAspectRatio="none"><filter id="fs12" filterUnits="userSpaceOnUse" x="-15.32" y="-15.52" width="695.64" height="646.04" color-interpolation-filters="sRGB"><feTurbulence type="fractalNoise" baseFrequency="0.012" numOctaves="2" seed="132" result="dn"/><feDisplacementMap in="SourceGraphic" in2="dn" scale="22" xChannelSelector="R" yChannelSelector="G" result="ds"/><feTurbulence type="fractalNoise" baseFrequency="0.0420" numOctaves="1" seed="232" result="dn2"/><feDisplacementMap in="ds" in2="dn2" scale="13.2" xChannelSelector="R" yChannelSelector="G" result="ds2"/><feGaussianBlur in="ds2" stdDeviation="5.5" result="b"/><feColorMatrix in="b" type="matrix" values="1 0 0 0 0 1 0 0 0 0 1 0 0 0 0 0 0 0 0 1" result="A"/><feColorMatrix in="b" type="matrix" values="0 1 0 0 0 0 1 0 0 0 0 1 0 0 0 0 0 0 0 1" result="M"/><feTurbulence type="fractalNoise" baseFrequency="0.055" numOctaves="2" seed="32" result="t"/><feColorMatrix in="t" type="matrix" values="2.4 0 0 0 -0.7 2.4 0 0 0 -0.7 2.4 0 0 0 -0.7 0 0 0 0 1" result="N"/><feColorMatrix in="b" type="matrix" values="0 0 1 0 0 0 0 1 0 0 0 0 1 0 0 0 0 0 0 1" result="S"/><feTurbulence type="fractalNoise" baseFrequency="0.09" numOctaves="1" seed="82" result="t2"/><feColorMatrix in="t2" type="matrix" values="3.0 0 0 0 -1 3.0 0 0 0 -1 3.0 0 0 0 -1 0 0 0 0 1" result="N2"/><feComposite in="S" in2="N2" operator="arithmetic" k1="0.5" k2="0" k3="0" k4="0" result="P2"/><feComposite in="M" in2="N" operator="arithmetic" k1="0.5" k2="0" k3="0" k4="0" result="P"/><feComposite in="A" in2="M" operator="arithmetic" k1="0" k2="0.5" k3="-0.25" k4="0.25" result="H1"/><feComposite in="H1" in2="S" operator="arithmetic" k1="0" k2="1" k3="-0.25" k4="0" result="H1b"/><feComposite in="H1b" in2="P" operator="arithmetic" k1="0" k2="1" k3="1" k4="0" result="H2a"/><feComposite in="H2a" in2="P2" operator="arithmetic" k1="0" k2="1" k3="1" k4="0" result="H2"/><feComponentTransfer in="H2"><feFuncR type="linear" slope="2" intercept="-0.5"/><feFuncG type="linear" slope="2" intercept="-0.5"/><feFuncB type="linear" slope="2" intercept="-0.5"/></feComponentTransfer></filter><g filter="url(#fs12)"><rect x="-60.2" y="-57.2" width="785.4" height="729.4" fill="rgb(26,20,0)"/><polygon points="300,42 618,42 618,300 560,200 450,120" fill="rgb(51,20,0)"/><polygon points="52,120 200,50 330,50 200,120 52,215" fill="rgb(41,20,0)"/><polyline points="52,112 195,47" fill="none" stroke="rgb(255,8,0)" stroke-width="13" stroke-linecap="round" stroke-linejoin="round"/><polyline points="52,236 265,130" fill="none" stroke="rgb(255,8,0)" stroke-width="11" stroke-linecap="round" stroke-linejoin="round"/><ellipse cx="110" cy="160" rx="13" ry="24" fill="none" stroke="rgb(255,8,0)" stroke-width="11"/><ellipse cx="240" cy="108" rx="11" ry="24" fill="none" stroke="rgb(255,8,0)" stroke-width="11"/><ellipse cx="65" cy="195" rx="9" ry="22" fill="none" stroke="rgb(242,8,0)" stroke-width="10"/><polygon points="52,280 100,285 100,320 52,320" fill="rgb(247,10,0)"/><polygon points="420,95 450,85 545,150 525,182" fill="rgb(158,26,0)"/><polygon points="52,330 120,350 200,470 220,575 52,575" fill="rgb(66,36,0)"/><ellipse cx="340" cy="322" rx="232" ry="196" fill="rgb(36,15,0)" transform="rotate(-8 340 322)"/><ellipse cx="340" cy="322" rx="218" ry="182" fill="rgb(76,20,0)" transform="rotate(-8 340 322)"/><polygon points="255,190 185,230 152,300 182,388 242,436 304,452 344,395 316,330 306,260 290,196" fill="rgb(178,31,0)"/><polygon points="385,190 442,182 508,235 522,322 476,404 402,428 368,330 370,250" fill="rgb(189,31,0)"/><ellipse cx="487" cy="268" rx="9" ry="9" fill="rgb(76,10,0)"/><ellipse cx="464" cy="352" rx="9" ry="9" fill="rgb(76,10,0)"/><ellipse cx="580" cy="520" rx="18" ry="14" fill="rgb(128,13,0)"/><ellipse cx="500" cy="550" rx="14" ry="10" fill="rgb(115,13,0)"/></g></svg>
<svg x="289.1" y="483.2" width="99" height="91.3" viewBox="52 47 565 521" preserveAspectRatio="none"><filter id="fs13" filterUnits="userSpaceOnUse" x="-15.8" y="-15.52" width="700.6" height="646.04" color-interpolation-filters="sRGB"><feTurbulence type="fractalNoise" baseFrequency="0.012" numOctaves="2" seed="133" result="dn"/><feDisplacementMap in="SourceGraphic" in2="dn" scale="22" xChannelSelector="R" yChannelSelector="G" result="ds"/><feTurbulence type="fractalNoise" baseFrequency="0.0420" numOctaves="1" seed="233" result="dn2"/><feDisplacementMap in="ds" in2="dn2" scale="13.2" xChannelSelector="R" yChannelSelector="G" result="ds2"/><feGaussianBlur in="ds2" stdDeviation="6" result="b"/><feColorMatrix in="b" type="matrix" values="1 0 0 0 0 1 0 0 0 0 1 0 0 0 0 0 0 0 0 1" result="A"/><feColorMatrix in="b" type="matrix" values="0 1 0 0 0 0 1 0 0 0 0 1 0 0 0 0 0 0 0 1" result="M"/><feTurbulence type="fractalNoise" baseFrequency="0.04" numOctaves="2" seed="33" result="t"/><feColorMatrix in="t" type="matrix" values="4.5 0 0 0 -1.75 4.5 0 0 0 -1.75 4.5 0 0 0 -1.75 0 0 0 0 1" result="N"/><feColorMatrix in="b" type="matrix" values="0 0 1 0 0 0 0 1 0 0 0 0 1 0 0 0 0 0 0 1" result="S"/><feTurbulence type="fractalNoise" baseFrequency="0.09" numOctaves="1" seed="83" result="t2"/><feColorMatrix in="t2" type="matrix" values="3.0 0 0 0 -1 3.0 0 0 0 -1 3.0 0 0 0 -1 0 0 0 0 1" result="N2"/><feComposite in="S" in2="N2" operator="arithmetic" k1="0.5" k2="0" k3="0" k4="0" result="P2"/><feComposite in="M" in2="N" operator="arithmetic" k1="0.5" k2="0" k3="0" k4="0" result="P"/><feComposite in="A" in2="M" operator="arithmetic" k1="0" k2="0.5" k3="-0.25" k4="0.25" result="H1"/><feComposite in="H1" in2="S" operator="arithmetic" k1="0" k2="1" k3="-0.25" k4="0" result="H1b"/><feComposite in="H1b" in2="P" operator="arithmetic" k1="0" k2="1" k3="1" k4="0" result="H2a"/><feComposite in="H2a" in2="P2" operator="arithmetic" k1="0" k2="1" k3="1" k4="0" result="H2"/><feComponentTransfer in="H2"><feFuncR type="table" tableValues="0 0 0 0 0 0 0 0 0 .5 1 1 1 .5 .5 .5 .5 .5 .5 .5 .5"/><feFuncG type="table" tableValues="0 0 0 0 0 0 0 .5 1 1 1 .5 0 0 0 0 0 0 0 0 0"/><feFuncB type="table" tableValues=".5 .5 .5 .5 .5 .5 1 1 1 .5 0 0 0 0 0 0 0 0 0 0 0"/></feComponentTransfer></filter><g filter="url(#fs13)"><rect x="-61" y="-57.2" width="791" height="729.4" fill="rgb(31,10,0)"/><polygon points="48,40 622,40 622,200 540,150 400,110 250,120 120,180 48,200" fill="rgb(10,10,0)"/><ellipse cx="520" cy="110" rx="32" ry="11" fill="rgb(65,20,0)" transform="rotate(30 520 110)"/><ellipse cx="252" cy="95" rx="13" ry="40" fill="rgb(204,0,0)" transform="rotate(-10 252 95)"/><polygon points="85,120 116,114 140,176 110,190" fill="rgb(204,0,0)"/><polygon points="48,170 75,160 100,200 60,232" fill="rgb(204,0,0)"/><polyline points="52,262 190,192" fill="none" stroke="rgb(194,102,0)" stroke-width="14" stroke-linecap="round" stroke-linejoin="round"/><polygon points="48,270 80,280 90,350 48,342" fill="rgb(194,102,0)"/><polygon points="540,200 622,190 622,575 180,575 200,480 300,500 450,490 520,440 570,330" fill="rgb(147,245,41)"/><ellipse cx="340" cy="322" rx="222" ry="185" fill="rgb(45,10,0)" transform="rotate(-8 340 322)"/><polygon points="255,205 195,240 160,300 185,380 240,430 300,402 312,330 292,260 275,210" fill="rgb(147,41,0)"/><polygon points="390,200 450,195 510,250 520,310 480,400 420,430 375,380 372,280" fill="rgb(171,41,0)"/><ellipse cx="325" cy="440" rx="8" ry="14" fill="rgb(143,20,0)"/><ellipse cx="365" cy="435" rx="8" ry="10" fill="rgb(122,20,0)"/></g></svg>
<svg x="88.8" y="576.4" width="98.1" height="90.6" viewBox="50 65 560 517" preserveAspectRatio="none"><filter id="fs21" filterUnits="userSpaceOnUse" x="-17.2" y="2.96" width="694.4" height="641.08" color-interpolation-filters="sRGB"><feTurbulence type="fractalNoise" baseFrequency="0.012" numOctaves="2" seed="141" result="dn"/><feDisplacementMap in="SourceGraphic" in2="dn" scale="22" xChannelSelector="R" yChannelSelector="G" result="ds"/><feTurbulence type="fractalNoise" baseFrequency="0.0420" numOctaves="1" seed="241" result="dn2"/><feDisplacementMap in="ds" in2="dn2" scale="13.2" xChannelSelector="R" yChannelSelector="G" result="ds2"/><feGaussianBlur in="ds2" stdDeviation="6" result="b"/><feColorMatrix in="b" type="matrix" values="1 0 0 0 0 1 0 0 0 0 1 0 0 0 0 0 0 0 0 1" result="A"/><feColorMatrix in="b" type="matrix" values="0 1 0 0 0 0 1 0 0 0 0 1 0 0 0 0 0 0 0 1" result="M"/><feTurbulence type="fractalNoise" baseFrequency="0.03" numOctaves="2" seed="41" result="t"/><feColorMatrix in="t" type="matrix" values="2.4 0 0 0 -0.7 2.4 0 0 0 -0.7 2.4 0 0 0 -0.7 0 0 0 0 1" result="N"/><feColorMatrix in="b" type="matrix" values="0 0 1 0 0 0 0 1 0 0 0 0 1 0 0 0 0 0 0 1" result="S"/><feTurbulence type="fractalNoise" baseFrequency="0.09" numOctaves="1" seed="91" result="t2"/><feColorMatrix in="t2" type="matrix" values="3.0 0 0 0 -1 3.0 0 0 0 -1 3.0 0 0 0 -1 0 0 0 0 1" result="N2"/><feComposite in="S" in2="N2" operator="arithmetic" k1="0.5" k2="0" k3="0" k4="0" result="P2"/><feComposite in="M" in2="N" operator="arithmetic" k1="0.5" k2="0" k3="0" k4="0" result="P"/><feComposite in="A" in2="M" operator="arithmetic" k1="0" k2="0.5" k3="-0.25" k4="0.25" result="H1"/><feComposite in="H1" in2="S" operator="arithmetic" k1="0" k2="1" k3="-0.25" k4="0" result="H1b"/><feComposite in="H1b" in2="P" operator="arithmetic" k1="0" k2="1" k3="1" k4="0" result="H2a"/><feComposite in="H2a" in2="P2" operator="arithmetic" k1="0" k2="1" k3="1" k4="0" result="H2"/><feComponentTransfer in="H2"><feFuncR type="linear" slope="2" intercept="-0.5"/><feFuncG type="linear" slope="2" intercept="-0.5"/><feFuncB type="linear" slope="2" intercept="-0.5"/></feComponentTransfer></filter><g filter="url(#fs21)"><rect x="-62" y="-38.4" width="784" height="723.8" fill="rgb(128,15,0)"/><polygon points="50,58 150,58 50,100" fill="rgb(13,8,0)"/><polyline points="50,205 250,105" fill="none" stroke="rgb(102,20,0)" stroke-width="30" stroke-linecap="round" stroke-linejoin="round"/><polyline points="50,150 200,80" fill="none" stroke="rgb(158,15,0)" stroke-width="10" stroke-linecap="round" stroke-linejoin="round"/><ellipse cx="250" cy="148" rx="18" ry="10" fill="rgb(247,10,0)"/><ellipse cx="230" cy="125" rx="10" ry="8" fill="rgb(217,10,0)"/><ellipse cx="120" cy="170" rx="30" ry="18" fill="rgb(89,15,0)" transform="rotate(-25 120 170)"/><polyline points="50,282 130,242" fill="none" stroke="rgb(230,10,0)" stroke-width="9" stroke-linecap="round" stroke-linejoin="round"/><polygon points="50,300 120,320 160,440 260,525 400,535 480,505 560,400 615,330 615,590 50,590" fill="rgb(10,8,0)"/><polygon points="50,480 120,470 200,590 50,590" fill="rgb(51,15,0)"/><polygon points="570,200 615,190 615,330 580,300" fill="rgb(51,13,0)"/><ellipse cx="525" cy="480" rx="18" ry="18" fill="rgb(209,10,0)"/><ellipse cx="575" cy="505" rx="20" ry="18" fill="rgb(209,10,0)"/><ellipse cx="465" cy="550" rx="20" ry="22" fill="rgb(217,10,0)"/><ellipse cx="340" cy="335" rx="246" ry="198" fill="rgb(64,13,0)" transform="rotate(-8 340 335)"/><ellipse cx="340" cy="335" rx="234" ry="186" fill="rgb(112,13,0)" transform="rotate(-8 340 335)"/><polygon points="258,198 188,236 138,300 152,385 216,448 290,476 346,460 326,380 316,300 298,208" fill="rgb(255,8,0)"/><ellipse cx="299" cy="350" rx="15" ry="25" fill="rgb(140,10,0)"/><ellipse cx="285" cy="268" rx="14" ry="20" fill="rgb(153,10,0)"/><polygon points="372,203 452,198 512,258 518,332 476,406 402,448 362,438 360,300" fill="rgb(255,8,0)"/><ellipse cx="448" cy="372" rx="12" ry="16" fill="rgb(51,8,0)"/><ellipse cx="495" cy="280" rx="8" ry="8" fill="rgb(128,8,0)"/></g></svg>
<svg x="189.1" y="576.4" width="98.3" height="90.6" viewBox="52 65 561 517" preserveAspectRatio="none"><filter id="fs22" filterUnits="userSpaceOnUse" x="-15.32" y="2.96" width="695.64" height="641.08" color-interpolation-filters="sRGB"><feTurbulence type="fractalNoise" baseFrequency="0.012" numOctaves="2" seed="142" result="dn"/><feDisplacementMap in="SourceGraphic" in2="dn" scale="22" xChannelSelector="R" yChannelSelector="G" result="ds"/><feTurbulence type="fractalNoise" baseFrequency="0.0420" numOctaves="1" seed="242" result="dn2"/><feDisplacementMap in="ds" in2="dn2" scale="13.2" xChannelSelector="R" yChannelSelector="G" result="ds2"/><feGaussianBlur in="ds2" stdDeviation="5.5" result="b"/><feColorMatrix in="b" type="matrix" values="1 0 0 0 0 1 0 0 0 0 1 0 0 0 0 0 0 0 0 1" result="A"/><feColorMatrix in="b" type="matrix" values="0 1 0 0 0 0 1 0 0 0 0 1 0 0 0 0 0 0 0 1" result="M"/><feTurbulence type="fractalNoise" baseFrequency="0.05" numOctaves="2" seed="42" result="t"/><feColorMatrix in="t" type="matrix" values="2.4 0 0 0 -0.7 2.4 0 0 0 -0.7 2.4 0 0 0 -0.7 0 0 0 0 1" result="N"/><feColorMatrix in="b" type="matrix" values="0 0 1 0 0 0 0 1 0 0 0 0 1 0 0 0 0 0 0 1" result="S"/><feTurbulence type="fractalNoise" baseFrequency="0.09" numOctaves="1" seed="92" result="t2"/><feColorMatrix in="t2" type="matrix" values="3.0 0 0 0 -1 3.0 0 0 0 -1 3.0 0 0 0 -1 0 0 0 0 1" result="N2"/><feComposite in="S" in2="N2" operator="arithmetic" k1="0.5" k2="0" k3="0" k4="0" result="P2"/><feComposite in="M" in2="N" operator="arithmetic" k1="0.5" k2="0" k3="0" k4="0" result="P"/><feComposite in="A" in2="M" operator="arithmetic" k1="0" k2="0.5" k3="-0.25" k4="0.25" result="H1"/><feComposite in="H1" in2="S" operator="arithmetic" k1="0" k2="1" k3="-0.25" k4="0" result="H1b"/><feComposite in="H1b" in2="P" operator="arithmetic" k1="0" k2="1" k3="1" k4="0" result="H2a"/><feComposite in="H2a" in2="P2" operator="arithmetic" k1="0" k2="1" k3="1" k4="0" result="H2"/><feComponentTransfer in="H2"><feFuncR type="linear" slope="2" intercept="-0.5"/><feFuncG type="linear" slope="2" intercept="-0.5"/><feFuncB type="linear" slope="2" intercept="-0.5"/></feComponentTransfer></filter><g filter="url(#fs22)"><rect x="-60.2" y="-38.4" width="785.4" height="723.8" fill="rgb(36,31,0)"/><polyline points="52,150 215,68" fill="none" stroke="rgb(255,8,0)" stroke-width="14" stroke-linecap="round" stroke-linejoin="round"/><polyline points="52,286 280,150" fill="none" stroke="rgb(255,8,0)" stroke-width="12" stroke-linecap="round" stroke-linejoin="round"/><ellipse cx="80" cy="212" rx="13" ry="28" fill="none" stroke="rgb(255,8,0)" stroke-width="12"/><ellipse cx="145" cy="175" rx="13" ry="26" fill="none" stroke="rgb(255,8,0)" stroke-width="12"/><ellipse cx="265" cy="115" rx="15" ry="22" fill="none" stroke="rgb(247,8,0)" stroke-width="11"/><polygon points="450,95 480,85 585,170 560,196" fill="rgb(128,26,0)"/><ellipse cx="345" cy="322" rx="232" ry="196" fill="rgb(71,36,0)"/><polygon points="245,200 185,242 168,320 196,395 258,438 334,428 324,330 304,246" fill="rgb(140,41,0)"/><polygon points="385,195 452,187 514,236 526,330 484,414 402,444 373,402 368,280" fill="rgb(173,36,0)"/><polyline points="322,230 346,400" fill="none" stroke="rgb(31,15,0)" stroke-width="22" stroke-linecap="round" stroke-linejoin="round"/><polyline points="130,330 160,420 240,490 340,520 460,500 540,430 575,330" fill="none" stroke="rgb(26,15,0)" stroke-width="14" stroke-linecap="round" stroke-linejoin="round"/><ellipse cx="490" cy="575" rx="15" ry="10" fill="rgb(128,13,0)"/><ellipse cx="600" cy="470" rx="10" ry="12" fill="rgb(102,13,0)"/></g></svg>
<svg x="289.1" y="576.4" width="99" height="90.6" viewBox="52 65 565 517" preserveAspectRatio="none"><filter id="fs23" filterUnits="userSpaceOnUse" x="-15.8" y="2.96" width="700.6" height="641.08" color-interpolation-filters="sRGB"><feTurbulence type="fractalNoise" baseFrequency="0.012" numOctaves="2" seed="143" result="dn"/><feDisplacementMap in="SourceGraphic" in2="dn" scale="22" xChannelSelector="R" yChannelSelector="G" result="ds"/><feTurbulence type="fractalNoise" baseFrequency="0.0420" numOctaves="1" seed="243" result="dn2"/><feDisplacementMap in="ds" in2="dn2" scale="13.2" xChannelSelector="R" yChannelSelector="G" result="ds2"/><feGaussianBlur in="ds2" stdDeviation="6" result="b"/><feColorMatrix in="b" type="matrix" values="1 0 0 0 0 1 0 0 0 0 1 0 0 0 0 0 0 0 0 1" result="A"/><feColorMatrix in="b" type="matrix" values="0 1 0 0 0 0 1 0 0 0 0 1 0 0 0 0 0 0 0 1" result="M"/><feTurbulence type="fractalNoise" baseFrequency="0.04" numOctaves="2" seed="43" result="t"/><feColorMatrix in="t" type="matrix" values="4.5 0 0 0 -1.75 4.5 0 0 0 -1.75 4.5 0 0 0 -1.75 0 0 0 0 1" result="N"/><feColorMatrix in="b" type="matrix" values="0 0 1 0 0 0 0 1 0 0 0 0 1 0 0 0 0 0 0 1" result="S"/><feTurbulence type="fractalNoise" baseFrequency="0.09" numOctaves="1" seed="93" result="t2"/><feColorMatrix in="t2" type="matrix" values="3.0 0 0 0 -1 3.0 0 0 0 -1 3.0 0 0 0 -1 0 0 0 0 1" result="N2"/><feComposite in="S" in2="N2" operator="arithmetic" k1="0.5" k2="0" k3="0" k4="0" result="P2"/><feComposite in="M" in2="N" operator="arithmetic" k1="0.5" k2="0" k3="0" k4="0" result="P"/><feComposite in="A" in2="M" operator="arithmetic" k1="0" k2="0.5" k3="-0.25" k4="0.25" result="H1"/><feComposite in="H1" in2="S" operator="arithmetic" k1="0" k2="1" k3="-0.25" k4="0" result="H1b"/><feComposite in="H1b" in2="P" operator="arithmetic" k1="0" k2="1" k3="1" k4="0" result="H2a"/><feComposite in="H2a" in2="P2" operator="arithmetic" k1="0" k2="1" k3="1" k4="0" result="H2"/><feComponentTransfer in="H2"><feFuncR type="table" tableValues="0 0 0 0 0 0 0 0 0 .5 1 1 1 .5 .5 .5 .5 .5 .5 .5 .5"/><feFuncG type="table" tableValues="0 0 0 0 0 0 0 .5 1 1 1 .5 0 0 0 0 0 0 0 0 0"/><feFuncB type="table" tableValues=".5 .5 .5 .5 .5 .5 1 1 1 .5 0 0 0 0 0 0 0 0 0 0 0"/></feComponentTransfer></filter><g filter="url(#fs23)"><rect x="-61" y="-38.4" width="791" height="723.8" fill="rgb(24,8,0)"/><polygon points="48,58 168,58 48,113" fill="rgb(204,61,0)"/><polygon points="200,95 236,84 252,140 225,152" fill="rgb(204,0,0)"/><ellipse cx="95" cy="170" rx="11" ry="20" fill="none" stroke="rgb(204,0,0)" stroke-width="10"/><polygon points="48,180 75,170 130,210 110,240 76,230 70,300 48,300" fill="rgb(204,0,0)"/><polyline points="150,202 262,160" fill="none" stroke="rgb(102,20,0)" stroke-width="8" stroke-linecap="round" stroke-linejoin="round"/><polygon points="450,110 480,100 572,160 545,186" fill="rgb(163,102,0)"/><polygon points="560,200 622,190 622,590 48,590 48,330 110,420 170,490 250,522 400,522 500,470 560,380" fill="rgb(147,245,41)"/><polygon points="48,400 110,430 160,500 170,590 48,590" fill="rgb(61,51,0)"/><ellipse cx="335" cy="335" rx="235" ry="195" fill="rgb(61,10,0)" transform="rotate(-8 335 335)"/><polyline points="290,200 330,330 340,460" fill="none" stroke="rgb(45,12,0)" stroke-width="24" stroke-linecap="round" stroke-linejoin="round"/><polygon points="245,208 180,256 143,320 158,395 216,448 302,468 323,400 294,300 268,218" fill="rgb(167,31,0)"/><polygon points="362,208 420,193 490,230 517,310 496,395 433,448 372,465 356,330" fill="rgb(167,31,0)"/></g></svg>
<svg x="88.8" y="669.9" width="98.1" height="90.7" viewBox="50 85 560 518" preserveAspectRatio="none"><filter id="fs31" filterUnits="userSpaceOnUse" x="-17.2" y="22.84" width="694.4" height="642.32" color-interpolation-filters="sRGB"><feTurbulence type="fractalNoise" baseFrequency="0.012" numOctaves="2" seed="151" result="dn"/><feDisplacementMap in="SourceGraphic" in2="dn" scale="22" xChannelSelector="R" yChannelSelector="G" result="ds"/><feTurbulence type="fractalNoise" baseFrequency="0.0420" numOctaves="1" seed="251" result="dn2"/><feDisplacementMap in="ds" in2="dn2" scale="13.2" xChannelSelector="R" yChannelSelector="G" result="ds2"/><feGaussianBlur in="ds2" stdDeviation="6" result="b"/><feColorMatrix in="b" type="matrix" values="1 0 0 0 0 1 0 0 0 0 1 0 0 0 0 0 0 0 0 1" result="A"/><feColorMatrix in="b" type="matrix" values="0 1 0 0 0 0 1 0 0 0 0 1 0 0 0 0 0 0 0 1" result="M"/><feTurbulence type="fractalNoise" baseFrequency="0.03" numOctaves="2" seed="51" result="t"/><feColorMatrix in="t" type="matrix" values="2.4 0 0 0 -0.7 2.4 0 0 0 -0.7 2.4 0 0 0 -0.7 0 0 0 0 1" result="N"/><feColorMatrix in="b" type="matrix" values="0 0 1 0 0 0 0 1 0 0 0 0 1 0 0 0 0 0 0 1" result="S"/><feTurbulence type="fractalNoise" baseFrequency="0.09" numOctaves="1" seed="101" result="t2"/><feColorMatrix in="t2" type="matrix" values="3.0 0 0 0 -1 3.0 0 0 0 -1 3.0 0 0 0 -1 0 0 0 0 1" result="N2"/><feComposite in="S" in2="N2" operator="arithmetic" k1="0.5" k2="0" k3="0" k4="0" result="P2"/><feComposite in="M" in2="N" operator="arithmetic" k1="0.5" k2="0" k3="0" k4="0" result="P"/><feComposite in="A" in2="M" operator="arithmetic" k1="0" k2="0.5" k3="-0.25" k4="0.25" result="H1"/><feComposite in="H1" in2="S" operator="arithmetic" k1="0" k2="1" k3="-0.25" k4="0" result="H1b"/><feComposite in="H1b" in2="P" operator="arithmetic" k1="0" k2="1" k3="1" k4="0" result="H2a"/><feComposite in="H2a" in2="P2" operator="arithmetic" k1="0" k2="1" k3="1" k4="0" result="H2"/><feComponentTransfer in="H2"><feFuncR type="linear" slope="2" intercept="-0.5"/><feFuncG type="linear" slope="2" intercept="-0.5"/><feFuncB type="linear" slope="2" intercept="-0.5"/></feComponentTransfer></filter><g filter="url(#fs31)"><rect x="-62" y="-18.6" width="784" height="725.2" fill="rgb(107,15,0)"/><polygon points="50,130 180,80 300,80 120,200 50,300" fill="rgb(140,26,0)"/><polyline points="50,160 120,120 230,82" fill="none" stroke="rgb(178,15,0)" stroke-width="8" stroke-linecap="round" stroke-linejoin="round"/><polyline points="50,200 130,150 250,95" fill="none" stroke="rgb(89,15,0)" stroke-width="6" stroke-linecap="round" stroke-linejoin="round"/><polygon points="50,78 130,78 50,120" fill="rgb(26,8,0)"/><polyline points="170,130 200,190" fill="none" stroke="rgb(51,10,0)" stroke-width="10" stroke-linecap="round" stroke-linejoin="round"/><polyline points="70,230 90,280" fill="none" stroke="rgb(64,10,0)" stroke-width="12" stroke-linecap="round" stroke-linejoin="round"/><polyline points="330,150 420,160 480,190" fill="none" stroke="rgb(51,10,0)" stroke-width="8" stroke-linecap="round" stroke-linejoin="round"/><polygon points="545,195 615,180 615,612 250,612 330,565 480,525 572,420" fill="rgb(15,8,0)"/><polyline points="60,340 120,440 220,535 330,570" fill="none" stroke="rgb(13,8,0)" stroke-width="30" stroke-linecap="round" stroke-linejoin="round"/><polygon points="50,425 110,452 200,545 260,612 50,612" fill="rgb(76,15,0)"/><polygon points="50,380 95,395 100,420 50,430" fill="rgb(235,10,0)"/><ellipse cx="555" cy="540" rx="24" ry="24" fill="rgb(224,10,0)"/><ellipse cx="450" cy="566" rx="14" ry="12" fill="rgb(209,10,0)"/><ellipse cx="465" cy="155" rx="18" ry="16" fill="rgb(133,10,0)"/><ellipse cx="340" cy="370" rx="256" ry="196" fill="rgb(56,13,0)" transform="rotate(-8 340 370)"/><ellipse cx="340" cy="370" rx="244" ry="184" fill="rgb(115,13,0)" transform="rotate(-8 340 370)"/><polygon points="248,228 188,255 142,320 152,405 226,478 300,510 356,490 350,400 326,300 304,232" fill="rgb(255,8,0)"/><ellipse cx="300" cy="270" rx="16" ry="30" fill="rgb(178,13,0)" transform="rotate(-20 300 270)"/><polygon points="378,232 442,225 506,275 530,350 506,436 444,484 388,490 370,350" fill="rgb(255,8,0)"/><ellipse cx="472" cy="300" rx="30" ry="18" fill="rgb(204,13,0)"/><ellipse cx="470" cy="410" rx="12" ry="10" fill="rgb(76,8,0)"/><ellipse cx="497" cy="300" rx="8" ry="10" fill="rgb(89,8,0)"/></g></svg>
<svg x="189.1" y="669.9" width="98.3" height="90.7" viewBox="52 85 561 518" preserveAspectRatio="none"><filter id="fs32" filterUnits="userSpaceOnUse" x="-15.32" y="22.84" width="695.64" height="642.32" color-interpolation-filters="sRGB"><feTurbulence type="fractalNoise" baseFrequency="0.012" numOctaves="2" seed="152" result="dn"/><feDisplacementMap in="SourceGraphic" in2="dn" scale="22" xChannelSelector="R" yChannelSelector="G" result="ds"/><feTurbulence type="fractalNoise" baseFrequency="0.0420" numOctaves="1" seed="252" result="dn2"/><feDisplacementMap in="ds" in2="dn2" scale="13.2" xChannelSelector="R" yChannelSelector="G" result="ds2"/><feGaussianBlur in="ds2" stdDeviation="5.5" result="b"/><feColorMatrix in="b" type="matrix" values="1 0 0 0 0 1 0 0 0 0 1 0 0 0 0 0 0 0 0 1" result="A"/><feColorMatrix in="b" type="matrix" values="0 1 0 0 0 0 1 0 0 0 0 1 0 0 0 0 0 0 0 1" result="M"/><feTurbulence type="fractalNoise" baseFrequency="0.05" numOctaves="2" seed="52" result="t"/><feColorMatrix in="t" type="matrix" values="2.4 0 0 0 -0.7 2.4 0 0 0 -0.7 2.4 0 0 0 -0.7 0 0 0 0 1" result="N"/><feColorMatrix in="b" type="matrix" values="0 0 1 0 0 0 0 1 0 0 0 0 1 0 0 0 0 0 0 1" result="S"/><feTurbulence type="fractalNoise" baseFrequency="0.09" numOctaves="1" seed="102" result="t2"/><feColorMatrix in="t2" type="matrix" values="3.0 0 0 0 -1 3.0 0 0 0 -1 3.0 0 0 0 -1 0 0 0 0 1" result="N2"/><feComposite in="S" in2="N2" operator="arithmetic" k1="0.5" k2="0" k3="0" k4="0" result="P2"/><feComposite in="M" in2="N" operator="arithmetic" k1="0.5" k2="0" k3="0" k4="0" result="P"/><feComposite in="A" in2="M" operator="arithmetic" k1="0" k2="0.5" k3="-0.25" k4="0.25" result="H1"/><feComposite in="H1" in2="S" operator="arithmetic" k1="0" k2="1" k3="-0.25" k4="0" result="H1b"/><feComposite in="H1b" in2="P" operator="arithmetic" k1="0" k2="1" k3="1" k4="0" result="H2a"/><feComposite in="H2a" in2="P2" operator="arithmetic" k1="0" k2="1" k3="1" k4="0" result="H2"/><feComponentTransfer in="H2"><feFuncR type="linear" slope="2" intercept="-0.5"/><feFuncG type="linear" slope="2" intercept="-0.5"/><feFuncB type="linear" slope="2" intercept="-0.5"/></feComponentTransfer></filter><g filter="url(#fs32)"><rect x="-60.2" y="-18.6" width="785.4" height="725.2" fill="rgb(26,20,0)"/><polyline points="52,136 155,85" fill="none" stroke="rgb(255,8,0)" stroke-width="14" stroke-linecap="round" stroke-linejoin="round"/><ellipse cx="195" cy="135" rx="13" ry="24" fill="none" stroke="rgb(217,8,0)" stroke-width="11"/><ellipse cx="335" cy="105" rx="18" ry="18" fill="rgb(140,13,0)"/><polygon points="52,180 95,185 90,260 60,300 52,400" fill="rgb(191,26,0)"/><ellipse cx="75" cy="300" rx="12" ry="40" fill="rgb(76,13,0)"/><polygon points="52,400 100,420 200,520 300,560 300,612 52,612" fill="rgb(84,41,0)"/><ellipse cx="335" cy="362" rx="252" ry="208" fill="rgb(41,15,0)" transform="rotate(-8 335 362)"/><polyline points="100,270 170,195 260,160 400,160" fill="none" stroke="rgb(178,13,0)" stroke-width="6" stroke-linecap="round" stroke-linejoin="round"/><polygon points="400,155 442,163 454,186 410,180" fill="rgb(247,10,0)"/><ellipse cx="335" cy="362" rx="232" ry="188" fill="rgb(82,20,0)" transform="rotate(-8 335 362)"/><polygon points="285,215 200,250 130,330 140,420 200,490 290,535 340,520 345,400 320,280" fill="rgb(148,31,0)"/><polygon points="378,225 452,218 512,280 532,370 490,460 404,500 378,480 386,350" fill="rgb(153,31,0)"/><polyline points="300,220 350,330 362,500" fill="none" stroke="rgb(71,15,0)" stroke-width="14" stroke-linecap="round" stroke-linejoin="round"/><polyline points="150,470 250,530 340,550 440,530" fill="none" stroke="rgb(178,13,0)" stroke-width="8" stroke-linecap="round" stroke-linejoin="round"/><ellipse cx="520" cy="530" rx="25" ry="30" fill="rgb(71,20,0)"/><ellipse cx="565" cy="480" rx="14" ry="14" fill="rgb(76,15,0)"/></g></svg>
<svg x="289.1" y="669.9" width="99" height="90.7" viewBox="52 85 565 518" preserveAspectRatio="none"><filter id="fs33" filterUnits="userSpaceOnUse" x="-15.8" y="22.84" width="700.6" height="642.32" color-interpolation-filters="sRGB"><feTurbulence type="fractalNoise" baseFrequency="0.012" numOctaves="2" seed="153" result="dn"/><feDisplacementMap in="SourceGraphic" in2="dn" scale="22" xChannelSelector="R" yChannelSelector="G" result="ds"/><feTurbulence type="fractalNoise" baseFrequency="0.0420" numOctaves="1" seed="253" result="dn2"/><feDisplacementMap in="ds" in2="dn2" scale="13.2" xChannelSelector="R" yChannelSelector="G" result="ds2"/><feGaussianBlur in="ds2" stdDeviation="6" result="b"/><feColorMatrix in="b" type="matrix" values="1 0 0 0 0 1 0 0 0 0 1 0 0 0 0 0 0 0 0 1" result="A"/><feColorMatrix in="b" type="matrix" values="0 1 0 0 0 0 1 0 0 0 0 1 0 0 0 0 0 0 0 1" result="M"/><feTurbulence type="fractalNoise" baseFrequency="0.04" numOctaves="2" seed="53" result="t"/><feColorMatrix in="t" type="matrix" values="4.5 0 0 0 -1.75 4.5 0 0 0 -1.75 4.5 0 0 0 -1.75 0 0 0 0 1" result="N"/><feColorMatrix in="b" type="matrix" values="0 0 1 0 0 0 0 1 0 0 0 0 1 0 0 0 0 0 0 1" result="S"/><feTurbulence type="fractalNoise" baseFrequency="0.09" numOctaves="1" seed="103" result="t2"/><feColorMatrix in="t2" type="matrix" values="3.0 0 0 0 -1 3.0 0 0 0 -1 3.0 0 0 0 -1 0 0 0 0 1" result="N2"/><feComposite in="S" in2="N2" operator="arithmetic" k1="0.5" k2="0" k3="0" k4="0" result="P2"/><feComposite in="M" in2="N" operator="arithmetic" k1="0.5" k2="0" k3="0" k4="0" result="P"/><feComposite in="A" in2="M" operator="arithmetic" k1="0" k2="0.5" k3="-0.25" k4="0.25" result="H1"/><feComposite in="H1" in2="S" operator="arithmetic" k1="0" k2="1" k3="-0.25" k4="0" result="H1b"/><feComposite in="H1b" in2="P" operator="arithmetic" k1="0" k2="1" k3="1" k4="0" result="H2a"/><feComposite in="H2a" in2="P2" operator="arithmetic" k1="0" k2="1" k3="1" k4="0" result="H2"/><feComponentTransfer in="H2"><feFuncR type="table" tableValues="0 0 0 0 0 0 0 0 0 .5 1 1 1 .5 .5 .5 .5 .5 .5 .5 .5"/><feFuncG type="table" tableValues="0 0 0 0 0 0 0 .5 1 1 1 .5 0 0 0 0 0 0 0 0 0"/><feFuncB type="table" tableValues=".5 .5 .5 .5 .5 .5 1 1 1 .5 0 0 0 0 0 0 0 0 0 0 0"/></feComponentTransfer></filter><g filter="url(#fs33)"><rect x="-61" y="-18.6" width="791" height="725.2" fill="rgb(20,12,0)"/><polyline points="52,142 200,92 400,96 617,162" fill="none" stroke="rgb(41,12,0)" stroke-width="20" stroke-linecap="round" stroke-linejoin="round"/><polygon points="175,120 206,114 216,190 190,170" fill="rgb(175,20,0)"/><polygon points="48,190 70,185 110,250 90,300 60,260 48,300" fill="rgb(177,20,0)"/><polyline points="90,312 250,200" fill="none" stroke="rgb(173,20,0)" stroke-width="8" stroke-linecap="round" stroke-linejoin="round"/><polygon points="520,230 622,220 622,612 48,612 48,380 130,400 190,500 260,542 400,546 500,500 560,400" fill="rgb(126,245,41)"/><ellipse cx="335" cy="365" rx="232" ry="192" fill="rgb(41,10,0)" transform="rotate(-8 335 365)"/><polyline points="330,250 346,400" fill="none" stroke="rgb(16,8,0)" stroke-width="24" stroke-linecap="round" stroke-linejoin="round"/><polygon points="250,235 200,280 150,360 170,420 220,470 290,496 326,440 300,330 270,240" fill="rgb(163,41,0)"/><ellipse cx="228" cy="400" rx="55" ry="33" fill="rgb(92,20,0)"/><polygon points="385,255 440,245 500,290 520,350 500,420 440,470 380,496 340,480 365,420 372,320" fill="rgb(171,37,0)"/><ellipse cx="420" cy="445" rx="40" ry="28" fill="rgb(133,20,0)"/></g></svg>
<defs><filter id="jb11" filterUnits="userSpaceOnUse" x="-100" y="-100" width="900" height="700" color-interpolation-filters="sRGB"><feGaussianBlur stdDeviation="11"/><feColorMatrix type="matrix" values="1 0 0 0 0 1 0 0 0 0 1 0 0 0 0 0 0 0 0 1"/><feComponentTransfer><feFuncR type="table" tableValues="0 0 0 0 .5 1 1 1 .5"/><feFuncG type="table" tableValues="0 0 .5 1 1 1 .5 0 0"/><feFuncB type="table" tableValues=".5 1 1 1 .5 0 0 0 0"/></feComponentTransfer></filter><filter id="jb16" filterUnits="userSpaceOnUse" x="-100" y="-100" width="900" height="700" color-interpolation-filters="sRGB"><feGaussianBlur stdDeviation="16"/><feColorMatrix type="matrix" values="1 0 0 0 0 1 0 0 0 0 1 0 0 0 0 0 0 0 0 1"/><feComponentTransfer><feFuncR type="table" tableValues="0 0 0 0 .5 1 1 1 .5"/><feFuncG type="table" tableValues="0 0 .5 1 1 1 .5 0 0"/><feFuncB type="table" tableValues=".5 1 1 1 .5 0 0 0 0"/></feComponentTransfer></filter></defs>
<svg x="420" y="60" width="160" height="110" viewBox="0 0 685 471" preserveAspectRatio="none" overflow="visible"><clipPath id="cbhL"><path clip-rule="evenodd" d="M50,228a190,187 0 1,0 380,0a190,187 0 1,0 -380,0z M207,228a33,32.48 0 1,0 66,0a33,32.48 0 1,0 -66,0z"/></clipPath><ellipse cx="240" cy="228" rx="190" ry="187" fill="#fff"/><g clip-path="url(#cbhL)"><g filter="url(#jb11)"><rect x="-10" y="-19" width="500" height="494" fill="rgb(84,0,0)"/><ellipse cx="240" cy="228" rx="136.8" ry="134.64" fill="rgb(64,0,0)"/><ellipse cx="240" cy="228" rx="85.5" ry="84.15" fill="rgb(110,0,0)"/><ellipse cx="250" cy="55" rx="130" ry="30" fill="rgb(102,0,0)"/><ellipse cx="215" cy="278" rx="34" ry="30" fill="rgb(135,0,0)"/><ellipse cx="200" cy="240" rx="22" ry="30" fill="rgb(122,0,0)"/><ellipse cx="230" cy="120" rx="70" ry="22" fill="rgb(51,0,0)"/><ellipse cx="120" cy="330" rx="60" ry="40" fill="rgb(71,0,0)"/></g></g><g fill="none" stroke="#1c1c1c" stroke-width="3.6"><ellipse cx="240" cy="228" rx="190" ry="187"/><ellipse cx="240" cy="228" rx="136.8" ry="134.64"/><ellipse cx="240" cy="228" rx="85.5" ry="84.15"/><ellipse cx="240" cy="228" rx="33" ry="32.48"/><line x1="325.5" y1="228" x2="430" y2="228"/><line x1="282.75" y1="155.12" x2="335" y2="66.05"/><line x1="197.25" y1="155.12" x2="145" y2="66.05"/><line x1="154.5" y1="228" x2="50" y2="228"/><line x1="197.25" y1="300.88" x2="145" y2="389.95"/><line x1="282.75" y1="300.88" x2="335" y2="389.95"/><line x1="273" y1="228" x2="325.5" y2="228"/><line x1="207" y1="228" x2="154.5" y2="228"/></g><clipPath id="cbhR"><path clip-rule="evenodd" d="M247,228a198,188 0 1,0 396,0a198,188 0 1,0 -396,0z M404,228a41,38.93 0 1,0 82,0a41,38.93 0 1,0 -82,0z"/></clipPath><ellipse cx="445" cy="228" rx="198" ry="188" fill="#fff"/><g clip-path="url(#cbhR)"><g filter="url(#jb11)"><rect x="187" y="-20" width="516" height="496" fill="rgb(74,0,0)"/><ellipse cx="445" cy="228" rx="145.93" ry="138.56" fill="rgb(54,0,0)"/><ellipse cx="445" cy="228" rx="92.47" ry="87.8" fill="rgb(64,0,0)"/><ellipse cx="262" cy="228" rx="18" ry="90" fill="rgb(87,0,0)"/><ellipse cx="348" cy="188" rx="30" ry="44" fill="rgb(36,0,0)"/><ellipse cx="440" cy="135" rx="70" ry="20" fill="rgb(43,0,0)"/><ellipse cx="450" cy="320" rx="80" ry="22" fill="rgb(46,0,0)"/></g></g><g fill="none" stroke="#1c1c1c" stroke-width="3.6"><ellipse cx="445" cy="228" rx="198" ry="188"/><ellipse cx="445" cy="228" rx="145.93" ry="138.56"/><ellipse cx="445" cy="228" rx="92.47" ry="87.8"/><ellipse cx="445" cy="228" rx="41" ry="38.93"/><line x1="537.47" y1="228" x2="643" y2="228"/><line x1="491.23" y1="151.97" x2="544" y2="65.19"/><line x1="398.77" y1="151.97" x2="346" y2="65.19"/><line x1="352.53" y1="228" x2="247" y2="228"/><line x1="398.77" y1="304.03" x2="346" y2="390.81"/><line x1="491.23" y1="304.03" x2="544" y2="390.81"/><line x1="473.99" y1="200.47" x2="510.38" y2="165.92"/><line x1="416.01" y1="200.47" x2="379.62" y2="165.92"/><line x1="416.01" y1="255.53" x2="379.62" y2="290.08"/><line x1="473.99" y1="255.53" x2="510.38" y2="290.08"/></g></svg>
<svg x="420" y="190" width="160" height="100" viewBox="0 0 685 428" preserveAspectRatio="none" overflow="visible"><clipPath id="cb2L"><path clip-rule="evenodd" d="M50,215a190,187 0 1,0 380,0a190,187 0 1,0 -380,0z M207,215a33,32.48 0 1,0 66,0a33,32.48 0 1,0 -66,0z"/></clipPath><ellipse cx="240" cy="215" rx="190" ry="187" fill="#fff"/><g clip-path="url(#cb2L)"><g filter="url(#jb11)"><rect x="-10" y="-32" width="500" height="494" fill="rgb(128,0,0)"/><ellipse cx="240" cy="215" rx="136.8" ry="134.64" fill="rgb(128,0,0)"/><ellipse cx="240" cy="215" rx="85.5" ry="84.15" fill="rgb(117,0,0)"/><ellipse cx="85" cy="125" rx="55" ry="60" fill="rgb(145,0,0)"/><ellipse cx="232" cy="318" rx="46" ry="20" fill="rgb(173,0,0)"/><ellipse cx="150" cy="262" rx="34" ry="40" fill="rgb(148,0,0)"/><ellipse cx="195" cy="160" rx="50" ry="22" fill="rgb(115,0,0)"/><ellipse cx="120" cy="340" rx="60" ry="30" fill="rgb(125,0,0)"/></g></g><g fill="none" stroke="#1c1c1c" stroke-width="3.6"><ellipse cx="240" cy="215" rx="190" ry="187"/><ellipse cx="240" cy="215" rx="136.8" ry="134.64"/><ellipse cx="240" cy="215" rx="85.5" ry="84.15"/><ellipse cx="240" cy="215" rx="33" ry="32.48"/><line x1="325.5" y1="215" x2="430" y2="215"/><line x1="282.75" y1="142.12" x2="335" y2="53.05"/><line x1="197.25" y1="142.12" x2="145" y2="53.05"/><line x1="154.5" y1="215" x2="50" y2="215"/><line x1="197.25" y1="287.88" x2="145" y2="376.95"/><line x1="282.75" y1="287.88" x2="335" y2="376.95"/><line x1="273" y1="215" x2="325.5" y2="215"/><line x1="207" y1="215" x2="154.5" y2="215"/></g><clipPath id="cb2R"><path clip-rule="evenodd" d="M251,215a198,188 0 1,0 396,0a198,188 0 1,0 -396,0z M408,215a41,38.93 0 1,0 82,0a41,38.93 0 1,0 -82,0z"/></clipPath><ellipse cx="449" cy="215" rx="198" ry="188" fill="#fff"/><g clip-path="url(#cb2R)"><g filter="url(#jb11)"><rect x="191" y="-33" width="516" height="496" fill="rgb(99,0,0)"/><ellipse cx="449" cy="215" rx="145.93" ry="138.56" fill="rgb(94,0,0)"/><ellipse cx="449" cy="215" rx="92.47" ry="87.8" fill="rgb(102,0,0)"/><ellipse cx="450" cy="40" rx="120" ry="24" fill="rgb(120,0,0)"/><ellipse cx="592" cy="285" rx="50" ry="50" fill="rgb(51,0,0)"/><ellipse cx="336" cy="172" rx="34" ry="36" fill="rgb(66,0,0)"/><ellipse cx="332" cy="265" rx="28" ry="40" fill="rgb(74,0,0)"/><ellipse cx="450" cy="338" rx="60" ry="22" fill="rgb(110,0,0)"/><ellipse cx="610" cy="150" rx="30" ry="60" fill="rgb(92,0,0)"/><ellipse cx="560" cy="250" rx="30" ry="30" fill="rgb(76,0,0)"/></g></g><g fill="none" stroke="#1c1c1c" stroke-width="3.6"><ellipse cx="449" cy="215" rx="198" ry="188"/><ellipse cx="449" cy="215" rx="145.93" ry="138.56"/><ellipse cx="449" cy="215" rx="92.47" ry="87.8"/><ellipse cx="449" cy="215" rx="41" ry="38.93"/><line x1="541.47" y1="215" x2="647" y2="215"/><line x1="495.23" y1="138.97" x2="548" y2="52.19"/><line x1="402.77" y1="138.97" x2="350" y2="52.19"/><line x1="356.53" y1="215" x2="251" y2="215"/><line x1="402.77" y1="291.03" x2="350" y2="377.81"/><line x1="495.23" y1="291.03" x2="548" y2="377.81"/><line x1="477.99" y1="187.47" x2="514.38" y2="152.92"/><line x1="420.01" y1="187.47" x2="383.62" y2="152.92"/><line x1="420.01" y1="242.53" x2="383.62" y2="277.08"/><line x1="477.99" y1="242.53" x2="514.38" y2="277.08"/></g></svg>
<svg x="420" y="295" width="160" height="110" viewBox="0 0 685 471" preserveAspectRatio="none" overflow="visible"><clipPath id="cb4L"><path clip-rule="evenodd" d="M52,230a190,187 0 1,0 380,0a190,187 0 1,0 -380,0z M209,230a33,32.48 0 1,0 66,0a33,32.48 0 1,0 -66,0z"/></clipPath><ellipse cx="242" cy="230" rx="190" ry="187" fill="#fff"/><g clip-path="url(#cb4L)"><g filter="url(#jb16)"><rect x="-8" y="-17" width="500" height="494" fill="rgb(145,0,0)"/><ellipse cx="242" cy="230" rx="136.8" ry="134.64" fill="rgb(140,0,0)"/><ellipse cx="242" cy="230" rx="85.5" ry="84.15" fill="rgb(128,0,0)"/><ellipse cx="78" cy="320" rx="40" ry="85" fill="rgb(199,0,0)"/><ellipse cx="60" cy="225" rx="22" ry="55" fill="rgb(163,0,0)"/><ellipse cx="250" cy="118" rx="60" ry="24" fill="rgb(107,0,0)"/><ellipse cx="235" cy="292" rx="36" ry="18" fill="rgb(171,0,0)"/><ellipse cx="200" cy="388" rx="80" ry="22" fill="rgb(150,0,0)"/><ellipse cx="335" cy="345" rx="50" ry="40" fill="rgb(128,0,0)"/><ellipse cx="150" cy="120" rx="40" ry="40" fill="rgb(145,0,0)"/></g></g><g fill="none" stroke="#1c1c1c" stroke-width="3.6"><ellipse cx="242" cy="230" rx="190" ry="187"/><ellipse cx="242" cy="230" rx="136.8" ry="134.64"/><ellipse cx="242" cy="230" rx="85.5" ry="84.15"/><ellipse cx="242" cy="230" rx="33" ry="32.48"/><line x1="327.5" y1="230" x2="432" y2="230"/><line x1="284.75" y1="157.12" x2="337" y2="68.05"/><line x1="199.25" y1="157.12" x2="147" y2="68.05"/><line x1="156.5" y1="230" x2="52" y2="230"/><line x1="199.25" y1="302.88" x2="147" y2="391.95"/><line x1="284.75" y1="302.88" x2="337" y2="391.95"/><line x1="275" y1="230" x2="327.5" y2="230"/><line x1="209" y1="230" x2="156.5" y2="230"/></g><clipPath id="cb4R"><path clip-rule="evenodd" d="M251,230a198,188 0 1,0 396,0a198,188 0 1,0 -396,0z M408,230a41,38.93 0 1,0 82,0a41,38.93 0 1,0 -82,0z"/></clipPath><ellipse cx="449" cy="230" rx="198" ry="188" fill="#fff"/><g clip-path="url(#cb4R)"><g filter="url(#jb16)"><rect x="191" y="-18" width="516" height="496" fill="rgb(133,0,0)"/><ellipse cx="449" cy="230" rx="145.93" ry="138.56" fill="rgb(128,0,0)"/><ellipse cx="449" cy="230" rx="92.47" ry="87.8" fill="rgb(128,0,0)"/><ellipse cx="449" cy="230" rx="168" ry="158" fill="none" stroke="rgb(255,0,0)" stroke-width="74" stroke-dasharray="330 2000" stroke-dashoffset="-575"/><ellipse cx="449" cy="230" rx="172" ry="162" fill="none" stroke="rgb(214,0,0)" stroke-width="60" stroke-dasharray="200 2000" stroke-dashoffset="-405"/><ellipse cx="300" cy="150" rx="36" ry="46" fill="rgb(255,0,0)"/><ellipse cx="360" cy="90" rx="50" ry="30" fill="rgb(255,0,0)"/><ellipse cx="385" cy="135" rx="70" ry="30" fill="rgb(204,0,0)"/><ellipse cx="322" cy="215" rx="30" ry="70" fill="rgb(199,0,0)"/><ellipse cx="350" cy="325" rx="36" ry="36" fill="rgb(173,0,0)"/><ellipse cx="400" cy="180" rx="30" ry="20" fill="rgb(158,0,0)"/><ellipse cx="516" cy="228" rx="26" ry="36" fill="rgb(26,0,0)"/><ellipse cx="545" cy="262" rx="26" ry="26" fill="rgb(71,0,0)"/><ellipse cx="472" cy="335" rx="46" ry="20" fill="rgb(76,0,0)"/><ellipse cx="445" cy="296" rx="28" ry="12" fill="rgb(158,0,0)"/><ellipse cx="585" cy="110" rx="40" ry="40" fill="rgb(145,0,0)"/><ellipse cx="440" cy="402" rx="90" ry="18" fill="rgb(148,0,0)"/><ellipse cx="570" cy="228" rx="30" ry="60" fill="rgb(115,0,0)"/></g></g><g fill="none" stroke="#1c1c1c" stroke-width="3.6"><ellipse cx="449" cy="230" rx="198" ry="188"/><ellipse cx="449" cy="230" rx="145.93" ry="138.56"/><ellipse cx="449" cy="230" rx="92.47" ry="87.8"/><ellipse cx="449" cy="230" rx="41" ry="38.93"/><line x1="541.47" y1="230" x2="647" y2="230"/><line x1="495.23" y1="153.97" x2="548" y2="67.19"/><line x1="402.77" y1="153.97" x2="350" y2="67.19"/><line x1="356.53" y1="230" x2="251" y2="230"/><line x1="402.77" y1="306.03" x2="350" y2="392.81"/><line x1="495.23" y1="306.03" x2="548" y2="392.81"/><line x1="477.99" y1="202.47" x2="514.38" y2="167.92"/><line x1="420.01" y1="202.47" x2="383.62" y2="167.92"/><line x1="420.01" y1="257.53" x2="383.62" y2="292.08"/><line x1="477.99" y1="257.53" x2="514.38" y2="292.08"/></g></svg>
<svg x="420" y="475" width="160" height="110" viewBox="0 0 685 471" preserveAspectRatio="none" overflow="visible"><clipPath id="cb6L"><path clip-rule="evenodd" d="M46,220a190,187 0 1,0 380,0a190,187 0 1,0 -380,0z M203,220a33,32.48 0 1,0 66,0a33,32.48 0 1,0 -66,0z"/></clipPath><ellipse cx="236" cy="220" rx="190" ry="187" fill="#fff"/><g clip-path="url(#cb6L)"><g filter="url(#jb16)"><rect x="-14" y="-27" width="500" height="494" fill="rgb(74,0,0)"/><ellipse cx="236" cy="220" rx="136.8" ry="134.64" fill="rgb(51,0,0)"/><ellipse cx="236" cy="220" rx="85.5" ry="84.15" fill="rgb(122,0,0)"/><ellipse cx="122" cy="190" rx="40" ry="70" fill="rgb(38,0,0)"/><ellipse cx="236" cy="50" rx="110" ry="26" fill="rgb(97,0,0)"/><ellipse cx="170" cy="350" rx="100" ry="44" fill="rgb(61,0,0)"/><ellipse cx="236" cy="165" rx="44" ry="20" fill="rgb(140,0,0)"/><ellipse cx="183" cy="228" rx="20" ry="40" fill="rgb(128,0,0)"/><ellipse cx="250" cy="278" rx="34" ry="20" fill="rgb(107,0,0)"/><ellipse cx="236" cy="110" rx="60" ry="20" fill="rgb(46,0,0)"/></g></g><g fill="none" stroke="#1c1c1c" stroke-width="3.6"><ellipse cx="236" cy="220" rx="190" ry="187"/><ellipse cx="236" cy="220" rx="136.8" ry="134.64"/><ellipse cx="236" cy="220" rx="85.5" ry="84.15"/><ellipse cx="236" cy="220" rx="33" ry="32.48"/><line x1="321.5" y1="220" x2="426" y2="220"/><line x1="278.75" y1="147.12" x2="331" y2="58.05"/><line x1="193.25" y1="147.12" x2="141" y2="58.05"/><line x1="150.5" y1="220" x2="46" y2="220"/><line x1="193.25" y1="292.88" x2="141" y2="381.95"/><line x1="278.75" y1="292.88" x2="331" y2="381.95"/><line x1="269" y1="220" x2="321.5" y2="220"/><line x1="203" y1="220" x2="150.5" y2="220"/></g><clipPath id="cb6R"><path clip-rule="evenodd" d="M249,220a198,188 0 1,0 396,0a198,188 0 1,0 -396,0z M406,220a41,38.93 0 1,0 82,0a41,38.93 0 1,0 -82,0z"/></clipPath><ellipse cx="447" cy="220" rx="198" ry="188" fill="#fff"/><g clip-path="url(#cb6R)"><g filter="url(#jb16)"><rect x="189" y="-28" width="516" height="496" fill="rgb(107,0,0)"/><ellipse cx="447" cy="220" rx="145.93" ry="138.56" fill="rgb(51,0,0)"/><ellipse cx="447" cy="220" rx="92.47" ry="87.8" fill="rgb(112,0,0)"/><ellipse cx="340" cy="66" rx="70" ry="34" fill="rgb(143,0,0)"/><ellipse cx="435" cy="40" rx="70" ry="22" fill="rgb(145,0,0)"/><ellipse cx="264" cy="220" rx="24" ry="80" fill="rgb(128,0,0)"/><ellipse cx="566" cy="185" rx="24" ry="66" fill="rgb(10,0,0)"/><ellipse cx="545" cy="292" rx="34" ry="28" fill="rgb(20,0,0)"/><ellipse cx="342" cy="290" rx="34" ry="40" fill="rgb(43,0,0)"/><ellipse cx="384" cy="215" rx="24" ry="52" fill="rgb(153,0,0)"/><ellipse cx="443" cy="164" rx="50" ry="16" fill="rgb(133,0,0)"/><ellipse cx="512" cy="222" rx="18" ry="44" fill="rgb(71,0,0)"/><ellipse cx="625" cy="300" rx="30" ry="80" fill="rgb(92,0,0)"/><ellipse cx="450" cy="110" rx="60" ry="18" fill="rgb(51,0,0)"/><ellipse cx="450" cy="338" rx="60" ry="18" fill="rgb(41,0,0)"/></g></g><g fill="none" stroke="#1c1c1c" stroke-width="3.6"><ellipse cx="447" cy="220" rx="198" ry="188"/><ellipse cx="447" cy="220" rx="145.93" ry="138.56"/><ellipse cx="447" cy="220" rx="92.47" ry="87.8"/><ellipse cx="447" cy="220" rx="41" ry="38.93"/><line x1="539.47" y1="220" x2="645" y2="220"/><line x1="493.23" y1="143.97" x2="546" y2="57.19"/><line x1="400.77" y1="143.97" x2="348" y2="57.19"/><line x1="354.53" y1="220" x2="249" y2="220"/><line x1="400.77" y1="296.03" x2="348" y2="382.81"/><line x1="493.23" y1="296.03" x2="546" y2="382.81"/><line x1="475.99" y1="192.47" x2="512.38" y2="157.92"/><line x1="418.01" y1="192.47" x2="381.62" y2="157.92"/><line x1="418.01" y1="247.53" x2="381.62" y2="282.08"/><line x1="475.99" y1="247.53" x2="512.38" y2="282.08"/></g></svg>
<svg x="420" y="570" width="160" height="110" viewBox="0 0 685 471" preserveAspectRatio="none" overflow="visible"><clipPath id="cb8L"><path clip-rule="evenodd" d="M50,227a190,187 0 1,0 380,0a190,187 0 1,0 -380,0z M207,227a33,32.48 0 1,0 66,0a33,32.48 0 1,0 -66,0z"/></clipPath><ellipse cx="240" cy="227" rx="190" ry="187" fill="#fff"/><g clip-path="url(#cb8L)"><g filter="url(#jb16)"><rect x="-10" y="-20" width="500" height="494" fill="rgb(128,0,0)"/><ellipse cx="240" cy="227" rx="136.8" ry="134.64" fill="rgb(117,0,0)"/><ellipse cx="240" cy="227" rx="85.5" ry="84.15" fill="rgb(110,0,0)"/><ellipse cx="148" cy="262" rx="24" ry="52" fill="rgb(71,0,0)"/><ellipse cx="250" cy="46" rx="56" ry="20" fill="rgb(184,0,0)"/><ellipse cx="200" cy="168" rx="46" ry="20" fill="rgb(107,0,0)"/><ellipse cx="240" cy="398" rx="80" ry="18" fill="rgb(138,0,0)"/><ellipse cx="70" cy="227" rx="22" ry="80" fill="rgb(138,0,0)"/></g></g><g fill="none" stroke="#1c1c1c" stroke-width="3.6"><ellipse cx="240" cy="227" rx="190" ry="187"/><ellipse cx="240" cy="227" rx="136.8" ry="134.64"/><ellipse cx="240" cy="227" rx="85.5" ry="84.15"/><ellipse cx="240" cy="227" rx="33" ry="32.48"/><line x1="325.5" y1="227" x2="430" y2="227"/><line x1="282.75" y1="154.12" x2="335" y2="65.05"/><line x1="197.25" y1="154.12" x2="145" y2="65.05"/><line x1="154.5" y1="227" x2="50" y2="227"/><line x1="197.25" y1="299.88" x2="145" y2="388.95"/><line x1="282.75" y1="299.88" x2="335" y2="388.95"/><line x1="273" y1="227" x2="325.5" y2="227"/><line x1="207" y1="227" x2="154.5" y2="227"/></g><clipPath id="cb8R"><path clip-rule="evenodd" d="M251,227a198,188 0 1,0 396,0a198,188 0 1,0 -396,0z M408,227a41,38.93 0 1,0 82,0a41,38.93 0 1,0 -82,0z"/></clipPath><ellipse cx="449" cy="227" rx="198" ry="188" fill="#fff"/><g clip-path="url(#cb8R)"><g filter="url(#jb16)"><rect x="191" y="-21" width="516" height="496" fill="rgb(128,0,0)"/><ellipse cx="449" cy="227" rx="145.93" ry="138.56" fill="rgb(120,0,0)"/><ellipse cx="449" cy="227" rx="92.47" ry="87.8" fill="rgb(107,0,0)"/><ellipse cx="449" cy="227" rx="172" ry="162" fill="none" stroke="rgb(194,0,0)" stroke-width="60" stroke-dasharray="290 2000" stroke-dashoffset="-465"/><ellipse cx="440" cy="52" rx="120" ry="28" fill="rgb(184,0,0)"/><ellipse cx="300" cy="112" rx="44" ry="44" fill="rgb(173,0,0)"/><ellipse cx="340" cy="305" rx="44" ry="36" fill="rgb(194,0,0)"/><ellipse cx="300" cy="330" rx="40" ry="40" fill="rgb(194,0,0)"/><ellipse cx="445" cy="164" rx="44" ry="16" fill="rgb(82,0,0)"/><ellipse cx="557" cy="180" rx="24" ry="40" fill="rgb(97,0,0)"/><ellipse cx="420" cy="395" rx="100" ry="20" fill="rgb(153,0,0)"/><ellipse cx="332" cy="230" rx="24" ry="50" fill="rgb(153,0,0)"/><ellipse cx="625" cy="227" rx="20" ry="90" fill="rgb(138,0,0)"/></g></g><g fill="none" stroke="#1c1c1c" stroke-width="3.6"><ellipse cx="449" cy="227" rx="198" ry="188"/><ellipse cx="449" cy="227" rx="145.93" ry="138.56"/><ellipse cx="449" cy="227" rx="92.47" ry="87.8"/><ellipse cx="449" cy="227" rx="41" ry="38.93"/><line x1="541.47" y1="227" x2="647" y2="227"/><line x1="495.23" y1="150.97" x2="548" y2="64.19"/><line x1="402.77" y1="150.97" x2="350" y2="64.19"/><line x1="356.53" y1="227" x2="251" y2="227"/><line x1="402.77" y1="303.03" x2="350" y2="389.81"/><line x1="495.23" y1="303.03" x2="548" y2="389.81"/><line x1="477.99" y1="199.47" x2="514.38" y2="164.92"/><line x1="420.01" y1="199.47" x2="383.62" y2="164.92"/><line x1="420.01" y1="254.53" x2="383.62" y2="289.08"/><line x1="477.99" y1="254.53" x2="514.38" y2="289.08"/></g></svg>
<svg x="420" y="660" width="160" height="110" viewBox="0 0 685 471" preserveAspectRatio="none" overflow="visible"><clipPath id="cb10L"><path clip-rule="evenodd" d="M55,232a190,187 0 1,0 380,0a190,187 0 1,0 -380,0z M212,232a33,32.48 0 1,0 66,0a33,32.48 0 1,0 -66,0z"/></clipPath><ellipse cx="245" cy="232" rx="190" ry="187" fill="#fff"/><g clip-path="url(#cb10L)"><g filter="url(#jb16)"><rect x="-5" y="-15" width="500" height="494" fill="rgb(128,0,0)"/><ellipse cx="245" cy="232" rx="136.8" ry="134.64" fill="rgb(128,0,0)"/><ellipse cx="245" cy="232" rx="85.5" ry="84.15" fill="rgb(128,0,0)"/><ellipse cx="258" cy="128" rx="42" ry="34" fill="rgb(247,0,0)"/><ellipse cx="216" cy="186" rx="26" ry="32" fill="rgb(209,0,0)"/><ellipse cx="262" cy="76" rx="50" ry="20" fill="rgb(184,0,0)"/><ellipse cx="82" cy="180" rx="40" ry="80" fill="rgb(107,0,0)"/><ellipse cx="232" cy="346" rx="60" ry="26" fill="rgb(158,0,0)"/><ellipse cx="260" cy="296" rx="20" ry="22" fill="rgb(76,0,0)"/><ellipse cx="150" cy="330" rx="50" ry="36" fill="rgb(133,0,0)"/></g></g><g fill="none" stroke="#1c1c1c" stroke-width="3.6"><ellipse cx="245" cy="232" rx="190" ry="187"/><ellipse cx="245" cy="232" rx="136.8" ry="134.64"/><ellipse cx="245" cy="232" rx="85.5" ry="84.15"/><ellipse cx="245" cy="232" rx="33" ry="32.48"/><line x1="330.5" y1="232" x2="435" y2="232"/><line x1="287.75" y1="159.12" x2="340" y2="70.05"/><line x1="202.25" y1="159.12" x2="150" y2="70.05"/><line x1="159.5" y1="232" x2="55" y2="232"/><line x1="202.25" y1="304.88" x2="150" y2="393.95"/><line x1="287.75" y1="304.88" x2="340" y2="393.95"/><line x1="278" y1="232" x2="330.5" y2="232"/><line x1="212" y1="232" x2="159.5" y2="232"/></g><clipPath id="cb10R"><path clip-rule="evenodd" d="M257,232a198,188 0 1,0 396,0a198,188 0 1,0 -396,0z M414,232a41,38.93 0 1,0 82,0a41,38.93 0 1,0 -82,0z"/></clipPath><ellipse cx="455" cy="232" rx="198" ry="188" fill="#fff"/><g clip-path="url(#cb10R)"><g filter="url(#jb16)"><rect x="197" y="-16" width="516" height="496" fill="rgb(120,0,0)"/><ellipse cx="455" cy="232" rx="145.93" ry="138.56" fill="rgb(122,0,0)"/><ellipse cx="455" cy="232" rx="92.47" ry="87.8" fill="rgb(128,0,0)"/><ellipse cx="354" cy="280" rx="26" ry="46" fill="rgb(168,0,0)"/><ellipse cx="618" cy="190" rx="52" ry="115" fill="rgb(43,0,0)"/><ellipse cx="580" cy="330" rx="66" ry="56" fill="rgb(48,0,0)"/><ellipse cx="494" cy="394" rx="76" ry="28" fill="rgb(71,0,0)"/><ellipse cx="524" cy="248" rx="26" ry="30" fill="rgb(84,0,0)"/><ellipse cx="450" cy="176" rx="44" ry="14" fill="rgb(145,0,0)"/><ellipse cx="568" cy="112" rx="50" ry="38" fill="rgb(71,0,0)"/><ellipse cx="562" cy="240" rx="28" ry="54" fill="rgb(76,0,0)"/></g></g><g fill="none" stroke="#1c1c1c" stroke-width="3.6"><ellipse cx="455" cy="232" rx="198" ry="188"/><ellipse cx="455" cy="232" rx="145.93" ry="138.56"/><ellipse cx="455" cy="232" rx="92.47" ry="87.8"/><ellipse cx="455" cy="232" rx="41" ry="38.93"/><line x1="547.47" y1="232" x2="653" y2="232"/><line x1="501.23" y1="155.97" x2="554" y2="69.19"/><line x1="408.77" y1="155.97" x2="356" y2="69.19"/><line x1="362.53" y1="232" x2="257" y2="232"/><line x1="408.77" y1="308.03" x2="356" y2="394.81"/><line x1="501.23" y1="308.03" x2="554" y2="394.81"/><line x1="483.99" y1="204.47" x2="520.38" y2="169.92"/><line x1="426.01" y1="204.47" x2="389.62" y2="169.92"/><line x1="426.01" y1="259.53" x2="389.62" y2="294.08"/><line x1="483.99" y1="259.53" x2="520.38" y2="294.08"/></g></svg>
<defs><linearGradient id="jetH" x1="0" x2="1" y1="0" y2="0"><stop offset="0" stop-color="#00008f"/><stop offset=".11" stop-color="#0000ff"/><stop offset=".36" stop-color="#00ffff"/><stop offset=".5" stop-color="#80ff80"/><stop offset=".62" stop-color="#ffff00"/><stop offset=".87" stop-color="#ff0000"/><stop offset="1" stop-color="#800000"/></linearGradient><linearGradient id="jetV" x1="0" x2="0" y1="1" y2="0"><stop offset="0" stop-color="#00008f"/><stop offset=".125" stop-color="#0000ff"/><stop offset=".375" stop-color="#00ffff"/><stop offset=".5" stop-color="#80ff80"/><stop offset=".625" stop-color="#ffff00"/><stop offset=".875" stop-color="#ff0000"/><stop offset="1" stop-color="#800000"/></linearGradient></defs>
<rect x="458.7" y="774.3" width="99.8" height="10.2" fill="url(#jetH)"/>
<rect x="374.5" y="66.4" width="6.1" height="101.2" fill="url(#jetV)"/>
<path d="M377.6,80.9H380.6M377.6,95.3H380.6M377.6,109.8H380.6M377.6,124.2H380.6M377.6,138.7H380.6M377.6,153.1H380.6" stroke="#fff" stroke-width="0.6" opacity="0.85"/>
<text x="0.3" y="16.2" font-size="20.5" text-anchor="start" font-weight="normal" textLength="18.5" lengthAdjust="spacingAndGlyphs">a)</text>
<text x="1.6" y="847.2" font-size="20.5" text-anchor="start" font-weight="normal" textLength="18.6" lengthAdjust="spacingAndGlyphs">b)</text>
<text x="-0.3" y="122.2" font-size="20.6" text-anchor="start" font-weight="normal" textLength="71.3" lengthAdjust="spacingAndGlyphs">Healthy</text>
<text x="-0.6" y="296.7" font-size="23" text-anchor="start" font-weight="normal" textLength="49" lengthAdjust="spacingAndGlyphs">MCT</text>
<text x="1.2" y="630.1" font-size="23" text-anchor="start" font-weight="normal" textLength="56.3" lengthAdjust="spacingAndGlyphs">SuHx</text>
<text x="208.8" y="58.3" font-size="18.7" text-anchor="start" font-weight="normal" textLength="41.6" lengthAdjust="spacingAndGlyphs">T1-w</text>
<text x="308.6" y="55.8" font-size="18.7" text-anchor="start" font-weight="normal" textLength="37.6" lengthAdjust="spacingAndGlyphs">ECV</text>
<text x="128.5" y="424.8" font-size="18.5" text-anchor="start" font-weight="normal" textLength="41.5" lengthAdjust="spacingAndGlyphs">T1-w</text>
<text x="230.4" y="424.8" font-size="18.5" text-anchor="start" font-weight="normal" textLength="37.8" lengthAdjust="spacingAndGlyphs">LGE</text>
<text x="332" y="424.8" font-size="18.5" text-anchor="start" font-weight="normal" textLength="38" lengthAdjust="spacingAndGlyphs">ECV</text>
<text x="125.2" y="785.8" font-size="18.5" text-anchor="start" font-weight="normal" textLength="41.6" lengthAdjust="spacingAndGlyphs">T1-w</text>
<text x="226" y="785.8" font-size="18.5" text-anchor="start" font-weight="normal" textLength="37.5" lengthAdjust="spacingAndGlyphs">LGE</text>
<text x="325.4" y="785.8" font-size="18.5" text-anchor="start" font-weight="normal" textLength="38" lengthAdjust="spacingAndGlyphs">ECV</text>
<text x="430.2" y="44.8" font-size="17.6" text-anchor="start" font-weight="normal" textLength="147.5" lengthAdjust="spacingAndGlyphs">26-segment model</text>
<text x="602.4" y="251" font-size="20.6" text-anchor="start" font-weight="normal" textLength="78" lengthAdjust="spacingAndGlyphs">2w-MCT</text>
<text x="600.7" y="360.6" font-size="20.6" text-anchor="start" font-weight="normal" textLength="78" lengthAdjust="spacingAndGlyphs">4w-MCT</text>
<text x="591.5" y="531.2" font-size="20.4" text-anchor="start" font-weight="normal" textLength="82.2" lengthAdjust="spacingAndGlyphs">6w-SuHx</text>
<text x="591.5" y="620.9" font-size="20.4" text-anchor="start" font-weight="normal" textLength="82.2" lengthAdjust="spacingAndGlyphs">8w-SuHx</text>
<text x="591.8" y="716.2" font-size="20.4" text-anchor="start" font-weight="normal" textLength="93.5" lengthAdjust="spacingAndGlyphs">10w-SuHx</text>
<text x="449" y="785.2" font-size="10.2" text-anchor="start" font-weight="normal" textLength="5.2" lengthAdjust="spacingAndGlyphs">5</text>
<text x="563" y="785.6" font-size="10.2" text-anchor="start" font-weight="normal" textLength="11.2" lengthAdjust="spacingAndGlyphs">35</text>
<text x="440" y="806.3" font-size="14.2" text-anchor="start" font-weight="normal" textLength="152" lengthAdjust="spacingAndGlyphs">Extracellular volume (%)</text>
<rect x="78.9" y="956.3" width="15.1" height="50.7" fill="none" stroke="#2828f0" stroke-width="1.1"/>
<path d="M86.7,947.4V966.8M83.1,947.4H90.4M83.1,966.8H90.4" stroke="#0a0af5" stroke-width="1" fill="none"/>
<rect x="103" y="940.2" width="15.3" height="66.8" fill="none" stroke="#e83038" stroke-width="1.1"/>
<path d="M110.6,925.4V954.2M107.1,925.4H114.4M107.1,954.2H114.4" stroke="#f0141e" stroke-width="1" fill="none"/>
<rect x="127.5" y="927.4" width="15" height="79.6" fill="none" stroke="#3cc83c" stroke-width="1.1"/>
<path d="M135.1,904.4V949.6M131.3,904.4H138.9M131.3,949.6H138.9" stroke="#14be14" stroke-width="1" fill="none"/>
<rect x="151.9" y="954.2" width="14.8" height="52.8" fill="none" stroke="#b030e0" stroke-width="1.1"/>
<path d="M159.2,947.3V961M155.6,947.3H162.8M155.6,961H162.8" stroke="#a514dc" stroke-width="1" fill="none"/>
<rect x="175.9" y="942.6" width="15.3" height="64.4" fill="none" stroke="#ffa040" stroke-width="1.1"/>
<path d="M183.3,930.5V953.4M179.5,930.5H187M179.5,953.4H187" stroke="#ff8214" stroke-width="1" fill="none"/>
<rect x="199.8" y="935.3" width="15.4" height="71.7" fill="none" stroke="#303030" stroke-width="1.1"/>
<path d="M207.7,931V938.5M204.1,931H211.3M204.1,938.5H211.3" stroke="#000000" stroke-width="1" fill="none"/>
<line x1="73.6" y1="956.3" x2="224" y2="956.3" stroke="#111" stroke-width="1.3" stroke-dasharray="1.3 3.5"/>
<circle cx="81.1" cy="947.8" r="2.35" fill="#0a0af5"/>
<circle cx="86.6" cy="945.8" r="2.35" fill="#0a0af5"/>
<circle cx="92" cy="945.1" r="2.35" fill="#0a0af5"/>
<circle cx="86.7" cy="955.4" r="2.35" fill="#0a0af5"/>
<circle cx="84" cy="962.6" r="2.35" fill="#0a0af5"/>
<circle cx="89.3" cy="964.5" r="2.35" fill="#0a0af5"/>
<circle cx="86.7" cy="972.7" r="2.35" fill="#0a0af5"/>
<circle cx="110.6" cy="918.6" r="2.35" fill="#f0141e"/>
<circle cx="106.8" cy="937.3" r="2.35" fill="#f0141e"/>
<circle cx="115" cy="937.3" r="2.35" fill="#f0141e"/>
<circle cx="106.8" cy="951.3" r="2.35" fill="#f0141e"/>
<circle cx="114.7" cy="954" r="2.35" fill="#f0141e"/>
<circle cx="135.1" cy="898.2" r="2.35" fill="#14be14"/>
<circle cx="135.1" cy="909.9" r="2.35" fill="#14be14"/>
<circle cx="135.1" cy="930.6" r="2.35" fill="#14be14"/>
<circle cx="135.1" cy="944.7" r="2.35" fill="#14be14"/>
<circle cx="135.1" cy="951.9" r="2.35" fill="#14be14"/>
<circle cx="154.1" cy="949.8" r="2.35" fill="#a514dc"/>
<circle cx="156.7" cy="948.4" r="2.35" fill="#a514dc"/>
<circle cx="159.2" cy="947.5" r="2.35" fill="#a514dc"/>
<circle cx="161.9" cy="946.9" r="2.35" fill="#a514dc"/>
<circle cx="164.5" cy="947.2" r="2.35" fill="#a514dc"/>
<circle cx="154.1" cy="959.5" r="2.35" fill="#a514dc"/>
<circle cx="156.7" cy="960.1" r="2.35" fill="#a514dc"/>
<circle cx="159.2" cy="960.1" r="2.35" fill="#a514dc"/>
<circle cx="161.9" cy="960.4" r="2.35" fill="#a514dc"/>
<circle cx="164.5" cy="961" r="2.35" fill="#a514dc"/>
<circle cx="180.9" cy="929.4" r="2.35" fill="#ff8214"/>
<circle cx="185.9" cy="930.9" r="2.35" fill="#ff8214"/>
<circle cx="178.1" cy="948.7" r="2.35" fill="#ff8214"/>
<circle cx="183.3" cy="950.1" r="2.35" fill="#ff8214"/>
<circle cx="188.6" cy="952.5" r="2.35" fill="#ff8214"/>
<circle cx="202.2" cy="931.5" r="2.35" fill="#000000"/>
<circle cx="207.7" cy="931.8" r="2.35" fill="#000000"/>
<circle cx="212.7" cy="932.6" r="2.35" fill="#000000"/>
<circle cx="205.1" cy="936.7" r="2.35" fill="#000000"/>
<circle cx="210.1" cy="941.7" r="2.35" fill="#000000"/>
<path d="M70.9,852.2V1007H224.5" stroke="#000" stroke-width="1.5" fill="none"/>
<line x1="63.9" y1="1007" x2="70.9" y2="1007" stroke="#000" stroke-width="1.4"/>
<text x="61.7" y="1010.9" font-size="11.2" text-anchor="end" font-weight="bold">0</text>
<line x1="63.9" y1="976.18" x2="70.9" y2="976.18" stroke="#000" stroke-width="1.4"/>
<text x="61.7" y="980.08" font-size="11.2" text-anchor="end" font-weight="bold">10</text>
<line x1="63.9" y1="945.36" x2="70.9" y2="945.36" stroke="#000" stroke-width="1.4"/>
<text x="61.7" y="949.26" font-size="11.2" text-anchor="end" font-weight="bold">20</text>
<line x1="63.9" y1="914.54" x2="70.9" y2="914.54" stroke="#000" stroke-width="1.4"/>
<text x="61.7" y="918.44" font-size="11.2" text-anchor="end" font-weight="bold">30</text>
<line x1="63.9" y1="883.72" x2="70.9" y2="883.72" stroke="#000" stroke-width="1.4"/>
<text x="61.7" y="887.62" font-size="11.2" text-anchor="end" font-weight="bold">40</text>
<line x1="63.9" y1="852.9" x2="70.9" y2="852.9" stroke="#000" stroke-width="1.4"/>
<text x="61.7" y="856.8" font-size="11.2" text-anchor="end" font-weight="bold">50</text>
<line x1="86.4" y1="1007" x2="86.4" y2="1013.4" stroke="#000" stroke-width="1.4"/>
<line x1="110.6" y1="1007" x2="110.6" y2="1013.4" stroke="#000" stroke-width="1.4"/>
<line x1="134.9" y1="1007" x2="134.9" y2="1013.4" stroke="#000" stroke-width="1.4"/>
<line x1="159" y1="1007" x2="159" y2="1013.4" stroke="#000" stroke-width="1.4"/>
<line x1="183.3" y1="1007" x2="183.3" y2="1013.4" stroke="#000" stroke-width="1.4"/>
<line x1="207.4" y1="1007" x2="207.4" y2="1013.4" stroke="#000" stroke-width="1.4"/>
<text transform="translate(89.7,1027.5) rotate(-45)" font-size="13.8" text-anchor="end">Healthy</text>
<text transform="translate(113.9,1027.5) rotate(-45)" font-size="13.8" text-anchor="end">2w-MCT</text>
<text transform="translate(138.2,1027.5) rotate(-45)" font-size="13.8" text-anchor="end">4w-MCT</text>
<text transform="translate(162.3,1027.5) rotate(-45)" font-size="13.8" text-anchor="end">6w-SuHx</text>
<text transform="translate(186.6,1027.5) rotate(-45)" font-size="13.8" text-anchor="end">8w-SuHx</text>
<text transform="translate(210.7,1027.5) rotate(-45)" font-size="13.8" text-anchor="end">10w-SuHx</text>
<text transform="translate(42,927) rotate(-90)" font-size="14.6" font-weight="bold" text-anchor="middle" textLength="71.6" lengthAdjust="spacingAndGlyphs">RV-ECV(%)</text>
<text x="110.9" y="905.2" font-size="12.3" text-anchor="middle" font-weight="normal">n.s.</text>
<text x="133.6" y="884.6" font-size="13" text-anchor="middle" font-weight="normal">**</text>
<text x="158.6" y="932.6" font-size="12.3" text-anchor="middle" font-weight="normal">n.s</text>
<text x="183.5" y="905.2" font-size="12.3" text-anchor="middle" font-weight="normal">n.s.</text>
<text x="206.9" y="922.6" font-size="13" text-anchor="middle" font-weight="normal">*</text>
<rect x="291.2" y="960.3" width="14.5" height="46.5" fill="none" stroke="#2828f0" stroke-width="1.1"/>
<path d="M298.3,949.3V971M294.5,949.3H302.4M294.5,971H302.4" stroke="#0a0af5" stroke-width="1" fill="none"/>
<rect x="314.6" y="942.1" width="14.6" height="64.7" fill="none" stroke="#e83038" stroke-width="1.1"/>
<path d="M322.1,920.2V964.2M318.3,920.2H326.1M318.3,964.2H326.1" stroke="#f0141e" stroke-width="1" fill="none"/>
<rect x="338.6" y="902.9" width="14.8" height="103.9" fill="none" stroke="#3cc83c" stroke-width="1.1"/>
<path d="M346.1,881.7V924M342.2,881.7H350M342.2,924H350" stroke="#14be14" stroke-width="1" fill="none"/>
<rect x="362.8" y="936" width="14.7" height="70.8" fill="none" stroke="#b030e0" stroke-width="1.1"/>
<path d="M370.2,929.1V942.1M366.4,929.1H374M366.4,942.1H374" stroke="#a514dc" stroke-width="1" fill="none"/>
<rect x="386.8" y="921.2" width="14.7" height="85.6" fill="none" stroke="#ffa040" stroke-width="1.1"/>
<path d="M394.2,909.5V932.2M390.4,909.5H398.2M390.4,932.2H398.2" stroke="#ff8214" stroke-width="1" fill="none"/>
<rect x="410.7" y="939.2" width="14.6" height="67.6" fill="none" stroke="#303030" stroke-width="1.1"/>
<path d="M417.8,935.4V943M414,935.4H421.6M414,943H421.6" stroke="#000000" stroke-width="1" fill="none"/>
<line x1="285.5" y1="960.3" x2="434.5" y2="960.3" stroke="#111" stroke-width="1.3" stroke-dasharray="1.3 3.5"/>
<circle cx="302.1" cy="945.1" r="2.35" fill="#0a0af5"/>
<circle cx="294.2" cy="950.2" r="2.35" fill="#0a0af5"/>
<circle cx="294.2" cy="954" r="2.35" fill="#0a0af5"/>
<circle cx="302.1" cy="958.8" r="2.35" fill="#0a0af5"/>
<circle cx="294.2" cy="967.6" r="2.35" fill="#0a0af5"/>
<circle cx="302.1" cy="968.6" r="2.35" fill="#0a0af5"/>
<circle cx="298.3" cy="975.8" r="2.35" fill="#0a0af5"/>
<circle cx="322.1" cy="904.7" r="2.35" fill="#f0141e"/>
<circle cx="318.2" cy="942.7" r="2.35" fill="#f0141e"/>
<circle cx="326.1" cy="948" r="2.35" fill="#f0141e"/>
<circle cx="318.2" cy="954.3" r="2.35" fill="#f0141e"/>
<circle cx="326.1" cy="960.7" r="2.35" fill="#f0141e"/>
<circle cx="346.4" cy="874.7" r="2.35" fill="#14be14"/>
<circle cx="346.4" cy="886.7" r="2.35" fill="#14be14"/>
<circle cx="342.2" cy="912.6" r="2.35" fill="#14be14"/>
<circle cx="350.2" cy="914.5" r="2.35" fill="#14be14"/>
<circle cx="346.1" cy="924.4" r="2.35" fill="#14be14"/>
<circle cx="368.9" cy="924.6" r="2.35" fill="#a514dc"/>
<circle cx="371.7" cy="930.3" r="2.35" fill="#a514dc"/>
<circle cx="364.5" cy="935.4" r="2.35" fill="#a514dc"/>
<circle cx="367.3" cy="936.3" r="2.35" fill="#a514dc"/>
<circle cx="370.2" cy="937.3" r="2.35" fill="#a514dc"/>
<circle cx="372.9" cy="935.4" r="2.35" fill="#a514dc"/>
<circle cx="375.9" cy="937.9" r="2.35" fill="#a514dc"/>
<circle cx="370.2" cy="946.8" r="2.35" fill="#a514dc"/>
<circle cx="394.2" cy="901" r="2.35" fill="#ff8214"/>
<circle cx="394.2" cy="921.2" r="2.35" fill="#ff8214"/>
<circle cx="388.9" cy="925.9" r="2.35" fill="#ff8214"/>
<circle cx="394.2" cy="926.5" r="2.35" fill="#ff8214"/>
<circle cx="399.2" cy="929.9" r="2.35" fill="#ff8214"/>
<circle cx="412.8" cy="935.1" r="2.35" fill="#000000"/>
<circle cx="417.8" cy="936.9" r="2.35" fill="#000000"/>
<circle cx="423.3" cy="937.3" r="2.35" fill="#000000"/>
<circle cx="415.9" cy="941.1" r="2.35" fill="#000000"/>
<circle cx="420.5" cy="945.5" r="2.35" fill="#000000"/>
<path d="M282.5,852.7V1006.8H435" stroke="#000" stroke-width="1.5" fill="none"/>
<line x1="275.5" y1="1006.8" x2="282.5" y2="1006.8" stroke="#000" stroke-width="1.4"/>
<text x="273.3" y="1010.7" font-size="11.2" text-anchor="end" font-weight="bold">0</text>
<line x1="275.5" y1="976.12" x2="282.5" y2="976.12" stroke="#000" stroke-width="1.4"/>
<text x="273.3" y="980.02" font-size="11.2" text-anchor="end" font-weight="bold">10</text>
<line x1="275.5" y1="945.44" x2="282.5" y2="945.44" stroke="#000" stroke-width="1.4"/>
<text x="273.3" y="949.34" font-size="11.2" text-anchor="end" font-weight="bold">20</text>
<line x1="275.5" y1="914.76" x2="282.5" y2="914.76" stroke="#000" stroke-width="1.4"/>
<text x="273.3" y="918.66" font-size="11.2" text-anchor="end" font-weight="bold">30</text>
<line x1="275.5" y1="884.08" x2="282.5" y2="884.08" stroke="#000" stroke-width="1.4"/>
<text x="273.3" y="887.98" font-size="11.2" text-anchor="end" font-weight="bold">40</text>
<line x1="275.5" y1="853.4" x2="282.5" y2="853.4" stroke="#000" stroke-width="1.4"/>
<text x="273.3" y="857.3" font-size="11.2" text-anchor="end" font-weight="bold">50</text>
<line x1="298.4" y1="1006.8" x2="298.4" y2="1013.2" stroke="#000" stroke-width="1.4"/>
<line x1="322" y1="1006.8" x2="322" y2="1013.2" stroke="#000" stroke-width="1.4"/>
<line x1="346" y1="1006.8" x2="346" y2="1013.2" stroke="#000" stroke-width="1.4"/>
<line x1="370.1" y1="1006.8" x2="370.1" y2="1013.2" stroke="#000" stroke-width="1.4"/>
<line x1="394.2" y1="1006.8" x2="394.2" y2="1013.2" stroke="#000" stroke-width="1.4"/>
<line x1="418" y1="1006.8" x2="418" y2="1013.2" stroke="#000" stroke-width="1.4"/>
<text transform="translate(301.7,1027.3) rotate(-45)" font-size="13.8" text-anchor="end">Healthy</text>
<text transform="translate(325.3,1027.3) rotate(-45)" font-size="13.8" text-anchor="end">2w-MCT</text>
<text transform="translate(349.3,1027.3) rotate(-45)" font-size="13.8" text-anchor="end">4w-MCT</text>
<text transform="translate(373.4,1027.3) rotate(-45)" font-size="13.8" text-anchor="end">6w-SuHx</text>
<text transform="translate(397.5,1027.3) rotate(-45)" font-size="13.8" text-anchor="end">8w-SuHx</text>
<text transform="translate(421.3,1027.3) rotate(-45)" font-size="13.8" text-anchor="end">10w-SuHx</text>
<text transform="translate(253.8,929.8) rotate(-90)" font-size="14.6" font-weight="bold" text-anchor="middle" textLength="93.1" lengthAdjust="spacingAndGlyphs">RVIP-ECV (%)</text>
<text x="322" y="895.9" font-size="12.3" text-anchor="middle" font-weight="normal">n.s.</text>
<text x="346" y="859.1" font-size="13" text-anchor="middle" font-weight="normal">****</text>
<text x="369.6" y="914.5" font-size="13" text-anchor="middle" font-weight="normal">***</text>
<text x="394.6" y="890.5" font-size="13" text-anchor="middle" font-weight="normal">**</text>
<text x="419.3" y="914.1" font-size="13" text-anchor="middle" font-weight="normal">*</text>
<rect x="504" y="951.6" width="15" height="53.1" fill="none" stroke="#2828f0" stroke-width="1.1"/>
<path d="M511.5,937V965.1M507.5,937H515.3M507.5,965.1H515.3" stroke="#0a0af5" stroke-width="1" fill="none"/>
<rect x="527.8" y="943.6" width="15.4" height="61.1" fill="none" stroke="#e83038" stroke-width="1.1"/>
<path d="M535.3,937.7V949.5M531.5,937.7H539.1M531.5,949.5H539.1" stroke="#f0141e" stroke-width="1" fill="none"/>
<rect x="552.1" y="911.4" width="14.8" height="93.3" fill="none" stroke="#3cc83c" stroke-width="1.1"/>
<path d="M559.5,897.2V925.3M555.5,897.2H563.3M555.5,925.3H563.3" stroke="#14be14" stroke-width="1" fill="none"/>
<rect x="576.2" y="934.7" width="15" height="70" fill="none" stroke="#b030e0" stroke-width="1.1"/>
<path d="M583.5,921.5V946.5M579.7,921.5H587.3M579.7,946.5H587.3" stroke="#a514dc" stroke-width="1" fill="none"/>
<rect x="599.8" y="918.3" width="15.2" height="86.4" fill="none" stroke="#ffa040" stroke-width="1.1"/>
<path d="M607.5,902.5V933.5M603.5,902.5H611.5M603.5,933.5H611.5" stroke="#ff8214" stroke-width="1" fill="none"/>
<rect x="623.8" y="924.4" width="15.2" height="80.3" fill="none" stroke="#303030" stroke-width="1.1"/>
<path d="M631.6,905.7V942.6M627.8,905.7H635.5M627.8,942.6H635.5" stroke="#000000" stroke-width="1" fill="none"/>
<line x1="499.1" y1="951.8" x2="648.5" y2="951.8" stroke="#111" stroke-width="1.3" stroke-dasharray="1.3 3.5"/>
<circle cx="513.1" cy="928.7" r="2.35" fill="#0a0af5"/>
<circle cx="509.6" cy="934.5" r="2.35" fill="#0a0af5"/>
<circle cx="511.5" cy="948.9" r="2.35" fill="#0a0af5"/>
<circle cx="505.8" cy="960" r="2.35" fill="#0a0af5"/>
<circle cx="509.3" cy="960.7" r="2.35" fill="#0a0af5"/>
<circle cx="513.1" cy="961.9" r="2.35" fill="#0a0af5"/>
<circle cx="516.5" cy="963.2" r="2.35" fill="#0a0af5"/>
<circle cx="530.2" cy="937.3" r="2.35" fill="#f0141e"/>
<circle cx="535.3" cy="939.6" r="2.35" fill="#f0141e"/>
<circle cx="540.6" cy="940.4" r="2.35" fill="#f0141e"/>
<circle cx="533" cy="947.1" r="2.35" fill="#f0141e"/>
<circle cx="538" cy="949.9" r="2.35" fill="#f0141e"/>
<circle cx="559.5" cy="892" r="2.35" fill="#14be14"/>
<circle cx="559.5" cy="906.6" r="2.35" fill="#14be14"/>
<circle cx="555.4" cy="913.3" r="2.35" fill="#14be14"/>
<circle cx="563.6" cy="914.3" r="2.35" fill="#14be14"/>
<circle cx="559.5" cy="931.2" r="2.35" fill="#14be14"/>
<circle cx="583.5" cy="916" r="2.35" fill="#a514dc"/>
<circle cx="585.4" cy="921.9" r="2.35" fill="#a514dc"/>
<circle cx="581.6" cy="927.8" r="2.35" fill="#a514dc"/>
<circle cx="577.8" cy="936.6" r="2.35" fill="#a514dc"/>
<circle cx="581.1" cy="937.9" r="2.35" fill="#a514dc"/>
<circle cx="584.5" cy="938.3" r="2.35" fill="#a514dc"/>
<circle cx="588.7" cy="939.8" r="2.35" fill="#a514dc"/>
<circle cx="583.5" cy="956.6" r="2.35" fill="#a514dc"/>
<circle cx="607.5" cy="894.6" r="2.35" fill="#ff8214"/>
<circle cx="607.5" cy="914.1" r="2.35" fill="#ff8214"/>
<circle cx="603.2" cy="920.6" r="2.35" fill="#ff8214"/>
<circle cx="611.7" cy="923.6" r="2.35" fill="#ff8214"/>
<circle cx="607.5" cy="937" r="2.35" fill="#ff8214"/>
<circle cx="631.6" cy="900.4" r="2.35" fill="#000000"/>
<circle cx="631.6" cy="909.2" r="2.35" fill="#000000"/>
<circle cx="627.5" cy="932.2" r="2.35" fill="#000000"/>
<circle cx="635.5" cy="933.2" r="2.35" fill="#000000"/>
<circle cx="631.6" cy="944.9" r="2.35" fill="#000000"/>
<path d="M495.6,851.5V1004.7H649" stroke="#000" stroke-width="1.5" fill="none"/>
<line x1="488.6" y1="1004.7" x2="495.6" y2="1004.7" stroke="#000" stroke-width="1.4"/>
<text x="486.4" y="1008.6" font-size="11.2" text-anchor="end" font-weight="bold">0</text>
<line x1="488.6" y1="974.2" x2="495.6" y2="974.2" stroke="#000" stroke-width="1.4"/>
<text x="486.4" y="978.1" font-size="11.2" text-anchor="end" font-weight="bold">10</text>
<line x1="488.6" y1="943.7" x2="495.6" y2="943.7" stroke="#000" stroke-width="1.4"/>
<text x="486.4" y="947.6" font-size="11.2" text-anchor="end" font-weight="bold">20</text>
<line x1="488.6" y1="913.2" x2="495.6" y2="913.2" stroke="#000" stroke-width="1.4"/>
<text x="486.4" y="917.1" font-size="11.2" text-anchor="end" font-weight="bold">30</text>
<line x1="488.6" y1="882.7" x2="495.6" y2="882.7" stroke="#000" stroke-width="1.4"/>
<text x="486.4" y="886.6" font-size="11.2" text-anchor="end" font-weight="bold">40</text>
<line x1="488.6" y1="852.2" x2="495.6" y2="852.2" stroke="#000" stroke-width="1.4"/>
<text x="486.4" y="856.1" font-size="11.2" text-anchor="end" font-weight="bold">50</text>
<line x1="511.5" y1="1004.7" x2="511.5" y2="1011.1" stroke="#000" stroke-width="1.4"/>
<line x1="535.5" y1="1004.7" x2="535.5" y2="1011.1" stroke="#000" stroke-width="1.4"/>
<line x1="559.5" y1="1004.7" x2="559.5" y2="1011.1" stroke="#000" stroke-width="1.4"/>
<line x1="583.7" y1="1004.7" x2="583.7" y2="1011.1" stroke="#000" stroke-width="1.4"/>
<line x1="607.4" y1="1004.7" x2="607.4" y2="1011.1" stroke="#000" stroke-width="1.4"/>
<line x1="631.4" y1="1004.7" x2="631.4" y2="1011.1" stroke="#000" stroke-width="1.4"/>
<text transform="translate(514.8,1025.2) rotate(-45)" font-size="13.8" text-anchor="end">Healthy</text>
<text transform="translate(538.8,1025.2) rotate(-45)" font-size="13.8" text-anchor="end">2w-MCT</text>
<text transform="translate(562.8,1025.2) rotate(-45)" font-size="13.8" text-anchor="end">4w-MCT</text>
<text transform="translate(587,1025.2) rotate(-45)" font-size="13.8" text-anchor="end">6w-SuHx</text>
<text transform="translate(610.7,1025.2) rotate(-45)" font-size="13.8" text-anchor="end">8w-SuHx</text>
<text transform="translate(634.7,1025.2) rotate(-45)" font-size="13.8" text-anchor="end">10w-SuHx</text>
<text transform="translate(467.2,928) rotate(-90)" font-size="14.6" font-weight="bold" text-anchor="middle" textLength="71.2" lengthAdjust="spacingAndGlyphs">IS-ECV(%)</text>
<text x="536" y="897.5" font-size="12.3" text-anchor="middle" font-weight="normal">n.s.</text>
<text x="559.4" y="876.6" font-size="13" text-anchor="middle" font-weight="normal">***</text>
<text x="584.7" y="897.5" font-size="12.3" text-anchor="middle" font-weight="normal">n.s.</text>
<text x="607.6" y="885.2" font-size="13" text-anchor="middle" font-weight="normal">**</text>
<text x="629.1" y="876.6" font-size="13" text-anchor="middle" font-weight="normal">**</text>
</svg>
</body></html>
